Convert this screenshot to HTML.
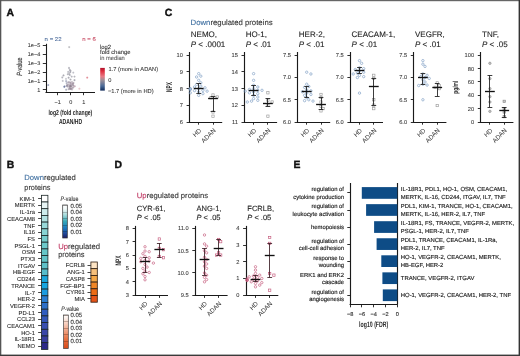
<!DOCTYPE html>
<html><head><meta charset="utf-8"><style>
html,body{margin:0;padding:0;background:#fff;}
body{width:520px;height:356px;overflow:hidden;}
svg{display:block;font-family:"Liberation Sans", sans-serif;will-change:transform;text-rendering:geometricPrecision;}
</style></head><body>
<svg width="520" height="356" viewBox="0 0 520 356">
<rect x="0" y="0" width="520" height="356" fill="#fff"/>
<text x="6.60" y="15.80" font-size="10.4" text-anchor="start" fill="#111" stroke="#111" stroke-width="0.4" font-weight="bold">A</text>
<text x="164.80" y="15.90" font-size="10.4" text-anchor="start" fill="#111" stroke="#111" stroke-width="0.4" font-weight="bold">C</text>
<text x="6.80" y="167.60" font-size="10.4" text-anchor="start" fill="#111" stroke="#111" stroke-width="0.4" font-weight="bold">B</text>
<text x="114.60" y="167.70" font-size="10.4" text-anchor="start" fill="#111" stroke="#111" stroke-width="0.4" font-weight="bold">D</text>
<text x="293.40" y="167.80" font-size="10.4" text-anchor="start" fill="#111" stroke="#111" stroke-width="0.4" font-weight="bold">E</text>
<line x1="46.50" y1="43.80" x2="46.50" y2="92.40" stroke="#1a1a1a" stroke-width="1.1"/>
<line x1="45.50" y1="92.50" x2="95.00" y2="92.50" stroke="#1a1a1a" stroke-width="1.1"/>
<line x1="42.80" y1="45.50" x2="46.00" y2="45.50" stroke="#1a1a1a" stroke-width="0.9"/>
<text x="40.20" y="47.35" font-size="5.5" text-anchor="end" fill="#3a3a3a" stroke="#3a3a3a" stroke-width="0.08">1e−5</text>
<line x1="42.80" y1="54.50" x2="46.00" y2="54.50" stroke="#1a1a1a" stroke-width="0.9"/>
<text x="40.20" y="56.25" font-size="5.5" text-anchor="end" fill="#3a3a3a" stroke="#3a3a3a" stroke-width="0.08">1e−4</text>
<line x1="42.80" y1="63.50" x2="46.00" y2="63.50" stroke="#1a1a1a" stroke-width="0.9"/>
<text x="40.20" y="65.15" font-size="5.5" text-anchor="end" fill="#3a3a3a" stroke="#3a3a3a" stroke-width="0.08">1e−3</text>
<line x1="42.80" y1="72.50" x2="46.00" y2="72.50" stroke="#1a1a1a" stroke-width="0.9"/>
<text x="40.20" y="74.05" font-size="5.5" text-anchor="end" fill="#3a3a3a" stroke="#3a3a3a" stroke-width="0.08">1e−2</text>
<line x1="42.80" y1="81.50" x2="46.00" y2="81.50" stroke="#1a1a1a" stroke-width="0.9"/>
<text x="40.20" y="82.95" font-size="5.5" text-anchor="end" fill="#3a3a3a" stroke="#3a3a3a" stroke-width="0.08">1e−1</text>
<line x1="42.80" y1="89.50" x2="46.00" y2="89.50" stroke="#1a1a1a" stroke-width="0.9"/>
<text x="40.20" y="91.85" font-size="5.5" text-anchor="end" fill="#3a3a3a" stroke="#3a3a3a" stroke-width="0.08">1</text>
<line x1="57.50" y1="92.40" x2="57.50" y2="95.20" stroke="#1a1a1a" stroke-width="0.9"/>
<text x="57.60" y="103.50" font-size="5.5" text-anchor="middle" fill="#3a3a3a" stroke="#3a3a3a" stroke-width="0.08">−1</text>
<line x1="70.50" y1="92.40" x2="70.50" y2="95.20" stroke="#1a1a1a" stroke-width="0.9"/>
<text x="70.70" y="103.50" font-size="5.5" text-anchor="middle" fill="#3a3a3a" stroke="#3a3a3a" stroke-width="0.08">0</text>
<line x1="83.50" y1="92.40" x2="83.50" y2="95.20" stroke="#1a1a1a" stroke-width="0.9"/>
<text x="83.70" y="103.50" font-size="5.5" text-anchor="middle" fill="#3a3a3a" stroke="#3a3a3a" stroke-width="0.08">1</text>
<text transform="translate(22.2,66.7) rotate(-90)" font-size="7.6" text-anchor="middle" fill="#1e1e1e" stroke="#1e1e1e" stroke-width="0.1" textLength="18.2" lengthAdjust="spacingAndGlyphs"><tspan font-style="italic">P</tspan>-value</text>
<text x="48.40" y="115.00" font-size="7.4" text-anchor="start" fill="#1e1e1e" stroke="#1e1e1e" stroke-width="0" font-weight="bold" textLength="43.90" lengthAdjust="spacingAndGlyphs">log2 (fold change)</text>
<text x="58.90" y="124.20" font-size="7.4" text-anchor="start" fill="#1e1e1e" stroke="#1e1e1e" stroke-width="0" font-weight="bold" textLength="23.20" lengthAdjust="spacingAndGlyphs">ADAN/HD</text>
<text x="44.60" y="41.00" font-size="5.6" text-anchor="start" fill="#4a6a9a" stroke="#4a6a9a" stroke-width="0.08" textLength="17.00" lengthAdjust="spacingAndGlyphs">n = 22</text>
<text x="82.30" y="41.00" font-size="5.6" text-anchor="start" fill="#c84a62" stroke="#c84a62" stroke-width="0.08" textLength="13.50" lengthAdjust="spacingAndGlyphs">n = 6</text>
<text x="100.00" y="48.50" font-size="6.0" text-anchor="start" fill="#333" stroke="#333" stroke-width="0.08" textLength="11.00" lengthAdjust="spacingAndGlyphs">log2</text>
<text x="100.00" y="54.30" font-size="6.0" text-anchor="start" fill="#333" stroke="#333" stroke-width="0.08" textLength="30.50" lengthAdjust="spacingAndGlyphs">fold change</text>
<text x="100.00" y="60.30" font-size="6.0" text-anchor="start" fill="#555" stroke="#555" stroke-width="0.08" textLength="24.80" lengthAdjust="spacingAndGlyphs">in median</text>
<defs><linearGradient id="gA" x1="0" y1="0" x2="0" y2="1"><stop offset="0" stop-color="#b0102a"/><stop offset="0.15" stop-color="#e03040"/><stop offset="0.38" stop-color="#e87a85"/><stop offset="0.55" stop-color="#9a8e98"/><stop offset="0.8" stop-color="#4a6a98"/><stop offset="1" stop-color="#0f2a5a"/></linearGradient></defs>
<rect x="100.20" y="67.90" width="4.60" height="22.70" fill="url(#gA)"/>
<text x="108.60" y="70.50" font-size="5.7" text-anchor="start" fill="#3a3a3a" stroke="#3a3a3a" stroke-width="0.08" textLength="49.50" lengthAdjust="spacingAndGlyphs">1.7 (more in ADAN)</text>
<text x="108.30" y="81.80" font-size="5.7" text-anchor="start" fill="#3a3a3a" stroke="#3a3a3a" stroke-width="0.08">0</text>
<text x="107.90" y="92.70" font-size="5.7" text-anchor="start" fill="#3a3a3a" stroke="#3a3a3a" stroke-width="0.08" textLength="45.70" lengthAdjust="spacingAndGlyphs">−1.7 (more in HD)</text>
<circle cx="69.20" cy="47.10" r="0.85" fill="#8a8a92" stroke="#8a8a92" stroke-width="0.25" opacity="0.6"/>
<circle cx="87.20" cy="77.60" r="0.85" fill="#d04050" stroke="#d04050" stroke-width="0.25" opacity="0.6"/>
<circle cx="48.30" cy="85.00" r="0.85" fill="#4a5a8a" stroke="#4a5a8a" stroke-width="0.25" opacity="0.6"/>
<circle cx="79.40" cy="88.70" r="0.85" fill="#e0a8b0" stroke="#e0a8b0" stroke-width="0.25" opacity="0.6"/>
<circle cx="64.30" cy="86.80" r="0.85" fill="#3a5090" stroke="#3a5090" stroke-width="0.25" opacity="0.6"/>
<circle cx="69.00" cy="67.90" r="0.85" fill="#7a7a88" stroke="#7a7a88" stroke-width="0.25" opacity="0.6"/>
<circle cx="69.80" cy="69.90" r="0.85" fill="#7a7a88" stroke="#7a7a88" stroke-width="0.25" opacity="0.6"/>
<circle cx="68.20" cy="71.90" r="0.85" fill="#8a8a96" stroke="#8a8a96" stroke-width="0.25" opacity="0.6"/>
<circle cx="70.20" cy="72.20" r="0.85" fill="#7a7a88" stroke="#7a7a88" stroke-width="0.25" opacity="0.6"/>
<circle cx="73.30" cy="72.60" r="0.85" fill="#9a9aa6" stroke="#9a9aa6" stroke-width="0.25" opacity="0.6"/>
<circle cx="67.80" cy="74.20" r="0.85" fill="#8a8a96" stroke="#8a8a96" stroke-width="0.25" opacity="0.6"/>
<circle cx="69.80" cy="75.00" r="0.85" fill="#7a7a88" stroke="#7a7a88" stroke-width="0.25" opacity="0.6"/>
<circle cx="74.50" cy="76.60" r="0.85" fill="#8a8a96" stroke="#8a8a96" stroke-width="0.25" opacity="0.6"/>
<circle cx="63.50" cy="75.40" r="0.85" fill="#7a7a88" stroke="#7a7a88" stroke-width="0.25" opacity="0.6"/>
<circle cx="62.30" cy="77.40" r="0.85" fill="#8a8a96" stroke="#8a8a96" stroke-width="0.25" opacity="0.6"/>
<circle cx="68.60" cy="77.70" r="0.85" fill="#7a7a88" stroke="#7a7a88" stroke-width="0.25" opacity="0.6"/>
<circle cx="71.70" cy="76.60" r="0.85" fill="#8a8a96" stroke="#8a8a96" stroke-width="0.25" opacity="0.6"/>
<circle cx="74.50" cy="80.10" r="0.85" fill="#6a6a7a" stroke="#6a6a7a" stroke-width="0.25" opacity="0.6"/>
<circle cx="62.70" cy="80.90" r="0.85" fill="#9a9aa6" stroke="#9a9aa6" stroke-width="0.25" opacity="0.6"/>
<circle cx="70.50" cy="79.50" r="0.85" fill="#7a7a88" stroke="#7a7a88" stroke-width="0.25" opacity="0.6"/>
<circle cx="69.30" cy="73.80" r="0.85" fill="#8a8a96" stroke="#8a8a96" stroke-width="0.25" opacity="0.6"/>
<circle cx="70.60" cy="70.80" r="0.85" fill="#8a8a96" stroke="#8a8a96" stroke-width="0.25" opacity="0.6"/>
<circle cx="66.00" cy="78.80" r="0.85" fill="#9a9aa6" stroke="#9a9aa6" stroke-width="0.25" opacity="0.6"/>
<circle cx="71.42" cy="84.01" r="0.85" fill="#a090a0" stroke="#a090a0" stroke-width="0.25" opacity="0.6"/>
<circle cx="74.08" cy="86.44" r="0.85" fill="#b898a8" stroke="#b898a8" stroke-width="0.25" opacity="0.6"/>
<circle cx="67.23" cy="84.96" r="0.85" fill="#9a8e9c" stroke="#9a8e9c" stroke-width="0.25" opacity="0.6"/>
<circle cx="68.10" cy="82.32" r="0.85" fill="#a090a0" stroke="#a090a0" stroke-width="0.25" opacity="0.6"/>
<circle cx="68.39" cy="84.27" r="0.85" fill="#9a8e9c" stroke="#9a8e9c" stroke-width="0.25" opacity="0.6"/>
<circle cx="70.46" cy="82.70" r="0.85" fill="#9a8e9c" stroke="#9a8e9c" stroke-width="0.25" opacity="0.6"/>
<circle cx="73.09" cy="87.54" r="0.85" fill="#8a7e8c" stroke="#8a7e8c" stroke-width="0.25" opacity="0.6"/>
<circle cx="69.14" cy="82.01" r="0.85" fill="#8a7e8c" stroke="#8a7e8c" stroke-width="0.25" opacity="0.6"/>
<circle cx="71.02" cy="88.72" r="0.85" fill="#a090a0" stroke="#a090a0" stroke-width="0.25" opacity="0.6"/>
<circle cx="71.75" cy="86.15" r="0.85" fill="#a090a0" stroke="#a090a0" stroke-width="0.25" opacity="0.6"/>
<circle cx="70.04" cy="84.25" r="0.85" fill="#a090a0" stroke="#a090a0" stroke-width="0.25" opacity="0.6"/>
<circle cx="66.15" cy="89.66" r="0.85" fill="#7a7e96" stroke="#7a7e96" stroke-width="0.25" opacity="0.6"/>
<circle cx="71.95" cy="81.79" r="0.85" fill="#9a8e9c" stroke="#9a8e9c" stroke-width="0.25" opacity="0.6"/>
<circle cx="70.48" cy="82.95" r="0.85" fill="#a090a0" stroke="#a090a0" stroke-width="0.25" opacity="0.6"/>
<circle cx="72.02" cy="84.50" r="0.85" fill="#a090a0" stroke="#a090a0" stroke-width="0.25" opacity="0.6"/>
<circle cx="66.75" cy="85.95" r="0.85" fill="#6a7090" stroke="#6a7090" stroke-width="0.25" opacity="0.6"/>
<circle cx="68.58" cy="89.09" r="0.85" fill="#8a7e8c" stroke="#8a7e8c" stroke-width="0.25" opacity="0.6"/>
<circle cx="69.65" cy="88.64" r="0.85" fill="#9a8e9c" stroke="#9a8e9c" stroke-width="0.25" opacity="0.6"/>
<circle cx="70.55" cy="85.65" r="0.85" fill="#8a7e8c" stroke="#8a7e8c" stroke-width="0.25" opacity="0.6"/>
<circle cx="69.26" cy="87.28" r="0.85" fill="#9a8e9c" stroke="#9a8e9c" stroke-width="0.25" opacity="0.6"/>
<circle cx="66.61" cy="83.04" r="0.85" fill="#7a7e96" stroke="#7a7e96" stroke-width="0.25" opacity="0.6"/>
<circle cx="66.12" cy="81.10" r="0.85" fill="#6a7090" stroke="#6a7090" stroke-width="0.25" opacity="0.6"/>
<circle cx="72.19" cy="88.11" r="0.85" fill="#a090a0" stroke="#a090a0" stroke-width="0.25" opacity="0.6"/>
<circle cx="71.14" cy="89.02" r="0.85" fill="#8a7e8c" stroke="#8a7e8c" stroke-width="0.25" opacity="0.6"/>
<circle cx="70.13" cy="88.79" r="0.85" fill="#8a7e8c" stroke="#8a7e8c" stroke-width="0.25" opacity="0.6"/>
<circle cx="74.99" cy="86.25" r="0.85" fill="#b898a8" stroke="#b898a8" stroke-width="0.25" opacity="0.6"/>
<circle cx="69.00" cy="85.73" r="0.85" fill="#948494" stroke="#948494" stroke-width="0.25" opacity="0.6"/>
<circle cx="73.32" cy="85.30" r="0.85" fill="#8a7e8c" stroke="#8a7e8c" stroke-width="0.25" opacity="0.6"/>
<circle cx="70.86" cy="86.20" r="0.85" fill="#8a7e8c" stroke="#8a7e8c" stroke-width="0.25" opacity="0.6"/>
<circle cx="72.06" cy="89.51" r="0.85" fill="#a090a0" stroke="#a090a0" stroke-width="0.25" opacity="0.6"/>
<circle cx="70.74" cy="87.05" r="0.85" fill="#948494" stroke="#948494" stroke-width="0.25" opacity="0.6"/>
<circle cx="72.94" cy="83.48" r="0.85" fill="#9a8e9c" stroke="#9a8e9c" stroke-width="0.25" opacity="0.6"/>
<circle cx="72.98" cy="84.87" r="0.85" fill="#a090a0" stroke="#a090a0" stroke-width="0.25" opacity="0.6"/>
<circle cx="69.85" cy="86.62" r="0.85" fill="#8a7e8c" stroke="#8a7e8c" stroke-width="0.25" opacity="0.6"/>
<circle cx="67.22" cy="85.32" r="0.85" fill="#a090a0" stroke="#a090a0" stroke-width="0.25" opacity="0.6"/>
<circle cx="67.46" cy="86.53" r="0.85" fill="#9a8e9c" stroke="#9a8e9c" stroke-width="0.25" opacity="0.6"/>
<circle cx="73.47" cy="82.95" r="0.85" fill="#948494" stroke="#948494" stroke-width="0.25" opacity="0.6"/>
<circle cx="70.24" cy="85.71" r="0.85" fill="#8a7e8c" stroke="#8a7e8c" stroke-width="0.25" opacity="0.6"/>
<circle cx="72.83" cy="83.49" r="0.85" fill="#a090a0" stroke="#a090a0" stroke-width="0.25" opacity="0.6"/>
<circle cx="64.59" cy="86.35" r="0.85" fill="#6a7090" stroke="#6a7090" stroke-width="0.25" opacity="0.6"/>
<text x="190.60" y="25.20" font-size="7.7" text-anchor="start" fill="#333" stroke="#333" stroke-width="0.1" textLength="82.00" lengthAdjust="spacingAndGlyphs"><tspan fill="#3a6c9e" stroke="#3a6c9e">Down</tspan>regulated proteins</text>
<line x1="189.50" y1="52.00" x2="189.50" y2="122.55" stroke="#1a1a1a" stroke-width="1.15"/>
<line x1="189.00" y1="122.50" x2="222.20" y2="122.50" stroke="#1a1a1a" stroke-width="1.15"/>
<line x1="186.60" y1="122.50" x2="189.50" y2="122.50" stroke="#1a1a1a" stroke-width="0.9"/>
<text x="182.90" y="123.90" font-size="5.7" text-anchor="end" fill="#3a3a3a" stroke="#3a3a3a" stroke-width="0.08">6</text>
<line x1="186.60" y1="105.50" x2="189.50" y2="105.50" stroke="#1a1a1a" stroke-width="0.9"/>
<text x="182.90" y="107.23" font-size="5.7" text-anchor="end" fill="#3a3a3a" stroke="#3a3a3a" stroke-width="0.08">7</text>
<line x1="186.60" y1="88.50" x2="189.50" y2="88.50" stroke="#1a1a1a" stroke-width="0.9"/>
<text x="182.90" y="90.55" font-size="5.7" text-anchor="end" fill="#3a3a3a" stroke="#3a3a3a" stroke-width="0.08">8</text>
<line x1="186.60" y1="71.50" x2="189.50" y2="71.50" stroke="#1a1a1a" stroke-width="0.9"/>
<text x="182.90" y="73.88" font-size="5.7" text-anchor="end" fill="#3a3a3a" stroke="#3a3a3a" stroke-width="0.08">9</text>
<line x1="186.60" y1="55.50" x2="189.50" y2="55.50" stroke="#1a1a1a" stroke-width="0.9"/>
<text x="182.90" y="57.20" font-size="5.7" text-anchor="end" fill="#3a3a3a" stroke="#3a3a3a" stroke-width="0.08">10</text>
<line x1="198.50" y1="122.00" x2="198.50" y2="124.70" stroke="#1a1a1a" stroke-width="0.9"/>
<text transform="translate(201.80,130.90) rotate(-45)" font-size="6.3" text-anchor="end" fill="#333">HD</text>
<line x1="213.50" y1="122.00" x2="213.50" y2="124.70" stroke="#1a1a1a" stroke-width="0.9"/>
<text transform="translate(216.10,130.90) rotate(-45)" font-size="6.3" text-anchor="end" fill="#333">ADAN</text>
<text x="190.80" y="37.30" font-size="8.0" text-anchor="start" fill="#1e1e1e" stroke="#1e1e1e" stroke-width="0.1">NEMO,</text>
<text x="190.80" y="46.50" font-size="8.0" text-anchor="start" fill="#1e1e1e" stroke="#1e1e1e" stroke-width="0.1"><tspan font-style="italic">P</tspan> &lt; .0001</text>
<circle cx="198.70" cy="73.64" r="1.2" fill="none" stroke="#7c9cc2" stroke-width="0.65"/>
<circle cx="200.80" cy="76.14" r="1.2" fill="none" stroke="#7c9cc2" stroke-width="0.65"/>
<circle cx="196.60" cy="76.98" r="1.2" fill="none" stroke="#7c9cc2" stroke-width="0.65"/>
<circle cx="198.70" cy="80.31" r="1.2" fill="none" stroke="#7c9cc2" stroke-width="0.65"/>
<circle cx="200.80" cy="82.81" r="1.2" fill="none" stroke="#7c9cc2" stroke-width="0.65"/>
<circle cx="196.60" cy="84.48" r="1.2" fill="none" stroke="#7c9cc2" stroke-width="0.65"/>
<circle cx="200.80" cy="86.15" r="1.2" fill="none" stroke="#7c9cc2" stroke-width="0.65"/>
<circle cx="194.50" cy="86.98" r="1.2" fill="none" stroke="#7c9cc2" stroke-width="0.65"/>
<circle cx="205.00" cy="87.82" r="1.2" fill="none" stroke="#7c9cc2" stroke-width="0.65"/>
<circle cx="198.70" cy="88.65" r="1.2" fill="none" stroke="#7c9cc2" stroke-width="0.65"/>
<circle cx="190.30" cy="88.65" r="1.2" fill="none" stroke="#7c9cc2" stroke-width="0.65"/>
<circle cx="190.30" cy="88.98" r="1.2" fill="none" stroke="#7c9cc2" stroke-width="0.65"/>
<circle cx="190.30" cy="89.48" r="1.2" fill="none" stroke="#7c9cc2" stroke-width="0.65"/>
<circle cx="202.90" cy="90.32" r="1.2" fill="none" stroke="#7c9cc2" stroke-width="0.65"/>
<circle cx="194.50" cy="90.65" r="1.2" fill="none" stroke="#7c9cc2" stroke-width="0.65"/>
<circle cx="207.10" cy="91.15" r="1.2" fill="none" stroke="#7c9cc2" stroke-width="0.65"/>
<circle cx="198.70" cy="91.98" r="1.2" fill="none" stroke="#7c9cc2" stroke-width="0.65"/>
<circle cx="190.30" cy="92.82" r="1.2" fill="none" stroke="#7c9cc2" stroke-width="0.65"/>
<circle cx="202.90" cy="93.65" r="1.2" fill="none" stroke="#7c9cc2" stroke-width="0.65"/>
<circle cx="198.70" cy="95.32" r="1.2" fill="none" stroke="#7c9cc2" stroke-width="0.65"/>
<rect x="211.85" y="93.84" width="2.3" height="2.3" fill="none" stroke="#9a9a9a" stroke-width="0.65"/>
<rect x="216.05" y="95.84" width="2.3" height="2.3" fill="none" stroke="#9a9a9a" stroke-width="0.65"/>
<rect x="209.75" y="96.67" width="2.3" height="2.3" fill="none" stroke="#9a9a9a" stroke-width="0.65"/>
<rect x="211.85" y="110.84" width="2.3" height="2.3" fill="none" stroke="#9a9a9a" stroke-width="0.65"/>
<rect x="211.85" y="115.01" width="2.3" height="2.3" fill="none" stroke="#9a9a9a" stroke-width="0.65"/>
<line x1="198.50" y1="83.65" x2="198.50" y2="93.65" stroke="#1a1a1a" stroke-width="0.85"/>
<line x1="196.30" y1="83.50" x2="201.10" y2="83.50" stroke="#1a1a1a" stroke-width="0.85"/>
<line x1="196.30" y1="93.50" x2="201.10" y2="93.50" stroke="#1a1a1a" stroke-width="0.85"/>
<line x1="193.80" y1="88.50" x2="203.60" y2="88.50" stroke="#111" stroke-width="1.35"/>
<line x1="213.50" y1="96.99" x2="213.50" y2="112.00" stroke="#1a1a1a" stroke-width="0.85"/>
<line x1="210.60" y1="96.50" x2="215.40" y2="96.50" stroke="#1a1a1a" stroke-width="0.85"/>
<line x1="210.60" y1="111.50" x2="215.40" y2="111.50" stroke="#1a1a1a" stroke-width="0.85"/>
<line x1="208.10" y1="98.50" x2="217.90" y2="98.50" stroke="#111" stroke-width="1.35"/>
<line x1="244.50" y1="52.00" x2="244.50" y2="122.55" stroke="#1a1a1a" stroke-width="1.15"/>
<line x1="243.90" y1="122.50" x2="277.10" y2="122.50" stroke="#1a1a1a" stroke-width="1.15"/>
<line x1="241.50" y1="122.50" x2="244.40" y2="122.50" stroke="#1a1a1a" stroke-width="0.9"/>
<text x="237.80" y="123.90" font-size="5.7" text-anchor="end" fill="#3a3a3a" stroke="#3a3a3a" stroke-width="0.08">11</text>
<line x1="241.50" y1="105.50" x2="244.40" y2="105.50" stroke="#1a1a1a" stroke-width="0.9"/>
<text x="237.80" y="107.23" font-size="5.7" text-anchor="end" fill="#3a3a3a" stroke="#3a3a3a" stroke-width="0.08">12</text>
<line x1="241.50" y1="88.50" x2="244.40" y2="88.50" stroke="#1a1a1a" stroke-width="0.9"/>
<text x="237.80" y="90.55" font-size="5.7" text-anchor="end" fill="#3a3a3a" stroke="#3a3a3a" stroke-width="0.08">13</text>
<line x1="241.50" y1="71.50" x2="244.40" y2="71.50" stroke="#1a1a1a" stroke-width="0.9"/>
<text x="237.80" y="73.88" font-size="5.7" text-anchor="end" fill="#3a3a3a" stroke="#3a3a3a" stroke-width="0.08">14</text>
<line x1="241.50" y1="55.50" x2="244.40" y2="55.50" stroke="#1a1a1a" stroke-width="0.9"/>
<text x="237.80" y="57.20" font-size="5.7" text-anchor="end" fill="#3a3a3a" stroke="#3a3a3a" stroke-width="0.08">15</text>
<line x1="253.50" y1="122.00" x2="253.50" y2="124.70" stroke="#1a1a1a" stroke-width="0.9"/>
<text transform="translate(256.70,130.90) rotate(-45)" font-size="6.3" text-anchor="end" fill="#333">HD</text>
<line x1="267.50" y1="122.00" x2="267.50" y2="124.70" stroke="#1a1a1a" stroke-width="0.9"/>
<text transform="translate(271.00,130.90) rotate(-45)" font-size="6.3" text-anchor="end" fill="#333">ADAN</text>
<text x="245.70" y="37.30" font-size="8.0" text-anchor="start" fill="#1e1e1e" stroke="#1e1e1e" stroke-width="0.1">HO-1,</text>
<text x="245.70" y="46.50" font-size="8.0" text-anchor="start" fill="#1e1e1e" stroke="#1e1e1e" stroke-width="0.1"><tspan font-style="italic">P</tspan> &lt; .01</text>
<circle cx="253.60" cy="73.64" r="1.2" fill="none" stroke="#7c9cc2" stroke-width="0.65"/>
<circle cx="253.60" cy="80.31" r="1.2" fill="none" stroke="#7c9cc2" stroke-width="0.65"/>
<circle cx="253.60" cy="85.32" r="1.2" fill="none" stroke="#7c9cc2" stroke-width="0.65"/>
<circle cx="257.80" cy="86.98" r="1.2" fill="none" stroke="#7c9cc2" stroke-width="0.65"/>
<circle cx="253.60" cy="88.65" r="1.2" fill="none" stroke="#7c9cc2" stroke-width="0.65"/>
<circle cx="249.40" cy="89.48" r="1.2" fill="none" stroke="#7c9cc2" stroke-width="0.65"/>
<circle cx="257.80" cy="90.32" r="1.2" fill="none" stroke="#7c9cc2" stroke-width="0.65"/>
<circle cx="262.00" cy="90.32" r="1.2" fill="none" stroke="#7c9cc2" stroke-width="0.65"/>
<circle cx="245.20" cy="91.15" r="1.2" fill="none" stroke="#7c9cc2" stroke-width="0.65"/>
<circle cx="253.60" cy="91.98" r="1.2" fill="none" stroke="#7c9cc2" stroke-width="0.65"/>
<circle cx="249.40" cy="92.82" r="1.2" fill="none" stroke="#7c9cc2" stroke-width="0.65"/>
<circle cx="257.80" cy="93.65" r="1.2" fill="none" stroke="#7c9cc2" stroke-width="0.65"/>
<circle cx="253.60" cy="95.32" r="1.2" fill="none" stroke="#7c9cc2" stroke-width="0.65"/>
<circle cx="257.80" cy="96.99" r="1.2" fill="none" stroke="#7c9cc2" stroke-width="0.65"/>
<circle cx="253.60" cy="98.66" r="1.2" fill="none" stroke="#7c9cc2" stroke-width="0.65"/>
<circle cx="257.80" cy="100.32" r="1.2" fill="none" stroke="#7c9cc2" stroke-width="0.65"/>
<circle cx="251.50" cy="101.16" r="1.2" fill="none" stroke="#7c9cc2" stroke-width="0.65"/>
<circle cx="247.30" cy="101.99" r="1.2" fill="none" stroke="#7c9cc2" stroke-width="0.65"/>
<rect x="266.75" y="91.67" width="2.3" height="2.3" fill="none" stroke="#9a9a9a" stroke-width="0.65"/>
<rect x="266.75" y="99.17" width="2.3" height="2.3" fill="none" stroke="#9a9a9a" stroke-width="0.65"/>
<rect x="270.95" y="100.84" width="2.3" height="2.3" fill="none" stroke="#9a9a9a" stroke-width="0.65"/>
<rect x="266.75" y="104.17" width="2.3" height="2.3" fill="none" stroke="#9a9a9a" stroke-width="0.65"/>
<rect x="266.75" y="115.01" width="2.3" height="2.3" fill="none" stroke="#9a9a9a" stroke-width="0.65"/>
<line x1="253.50" y1="85.32" x2="253.50" y2="95.32" stroke="#1a1a1a" stroke-width="0.85"/>
<line x1="251.20" y1="85.50" x2="256.00" y2="85.50" stroke="#1a1a1a" stroke-width="0.85"/>
<line x1="251.20" y1="95.50" x2="256.00" y2="95.50" stroke="#1a1a1a" stroke-width="0.85"/>
<line x1="248.70" y1="90.50" x2="258.50" y2="90.50" stroke="#111" stroke-width="1.35"/>
<line x1="267.50" y1="98.66" x2="267.50" y2="106.16" stroke="#1a1a1a" stroke-width="0.85"/>
<line x1="265.50" y1="98.50" x2="270.30" y2="98.50" stroke="#1a1a1a" stroke-width="0.85"/>
<line x1="265.50" y1="106.50" x2="270.30" y2="106.50" stroke="#1a1a1a" stroke-width="0.85"/>
<line x1="263.00" y1="103.50" x2="272.80" y2="103.50" stroke="#111" stroke-width="1.35"/>
<line x1="297.50" y1="52.00" x2="297.50" y2="122.55" stroke="#1a1a1a" stroke-width="1.15"/>
<line x1="297.00" y1="122.50" x2="330.20" y2="122.50" stroke="#1a1a1a" stroke-width="1.15"/>
<line x1="294.60" y1="122.50" x2="297.50" y2="122.50" stroke="#1a1a1a" stroke-width="0.9"/>
<text x="290.90" y="123.90" font-size="5.7" text-anchor="end" fill="#3a3a3a" stroke="#3a3a3a" stroke-width="0.08">6.0</text>
<line x1="294.60" y1="99.50" x2="297.50" y2="99.50" stroke="#1a1a1a" stroke-width="0.9"/>
<text x="290.90" y="101.67" font-size="5.7" text-anchor="end" fill="#3a3a3a" stroke="#3a3a3a" stroke-width="0.08">6.5</text>
<line x1="294.60" y1="77.50" x2="297.50" y2="77.50" stroke="#1a1a1a" stroke-width="0.9"/>
<text x="290.90" y="79.43" font-size="5.7" text-anchor="end" fill="#3a3a3a" stroke="#3a3a3a" stroke-width="0.08">7.0</text>
<line x1="294.60" y1="55.50" x2="297.50" y2="55.50" stroke="#1a1a1a" stroke-width="0.9"/>
<text x="290.90" y="57.20" font-size="5.7" text-anchor="end" fill="#3a3a3a" stroke="#3a3a3a" stroke-width="0.08">7.5</text>
<line x1="306.50" y1="122.00" x2="306.50" y2="124.70" stroke="#1a1a1a" stroke-width="0.9"/>
<text transform="translate(309.80,130.90) rotate(-45)" font-size="6.3" text-anchor="end" fill="#333">HD</text>
<line x1="321.50" y1="122.00" x2="321.50" y2="124.70" stroke="#1a1a1a" stroke-width="0.9"/>
<text transform="translate(324.10,130.90) rotate(-45)" font-size="6.3" text-anchor="end" fill="#333">ADAN</text>
<text x="298.80" y="37.30" font-size="8.0" text-anchor="start" fill="#1e1e1e" stroke="#1e1e1e" stroke-width="0.1">HER-2,</text>
<text x="298.80" y="46.50" font-size="8.0" text-anchor="start" fill="#1e1e1e" stroke="#1e1e1e" stroke-width="0.1"><tspan font-style="italic">P</tspan> &lt; .01</text>
<circle cx="306.70" cy="72.20" r="1.2" fill="none" stroke="#7c9cc2" stroke-width="0.65"/>
<circle cx="310.90" cy="73.98" r="1.2" fill="none" stroke="#7c9cc2" stroke-width="0.65"/>
<circle cx="306.70" cy="84.20" r="1.2" fill="none" stroke="#7c9cc2" stroke-width="0.65"/>
<circle cx="308.80" cy="86.43" r="1.2" fill="none" stroke="#7c9cc2" stroke-width="0.65"/>
<circle cx="304.60" cy="87.32" r="1.2" fill="none" stroke="#7c9cc2" stroke-width="0.65"/>
<circle cx="306.70" cy="89.98" r="1.2" fill="none" stroke="#7c9cc2" stroke-width="0.65"/>
<circle cx="310.90" cy="90.87" r="1.2" fill="none" stroke="#7c9cc2" stroke-width="0.65"/>
<circle cx="302.50" cy="91.76" r="1.2" fill="none" stroke="#7c9cc2" stroke-width="0.65"/>
<circle cx="306.70" cy="93.10" r="1.2" fill="none" stroke="#7c9cc2" stroke-width="0.65"/>
<circle cx="310.90" cy="94.43" r="1.2" fill="none" stroke="#7c9cc2" stroke-width="0.65"/>
<circle cx="304.60" cy="95.32" r="1.2" fill="none" stroke="#7c9cc2" stroke-width="0.65"/>
<circle cx="306.70" cy="97.54" r="1.2" fill="none" stroke="#7c9cc2" stroke-width="0.65"/>
<circle cx="308.80" cy="99.77" r="1.2" fill="none" stroke="#7c9cc2" stroke-width="0.65"/>
<circle cx="304.60" cy="100.66" r="1.2" fill="none" stroke="#7c9cc2" stroke-width="0.65"/>
<circle cx="313.00" cy="101.10" r="1.2" fill="none" stroke="#7c9cc2" stroke-width="0.65"/>
<rect x="319.85" y="93.28" width="2.3" height="2.3" fill="none" stroke="#9a9a9a" stroke-width="0.65"/>
<rect x="319.85" y="96.39" width="2.3" height="2.3" fill="none" stroke="#9a9a9a" stroke-width="0.65"/>
<rect x="319.85" y="100.84" width="2.3" height="2.3" fill="none" stroke="#9a9a9a" stroke-width="0.65"/>
<rect x="319.85" y="105.29" width="2.3" height="2.3" fill="none" stroke="#9a9a9a" stroke-width="0.65"/>
<rect x="321.95" y="107.51" width="2.3" height="2.3" fill="none" stroke="#9a9a9a" stroke-width="0.65"/>
<rect x="319.85" y="109.73" width="2.3" height="2.3" fill="none" stroke="#9a9a9a" stroke-width="0.65"/>
<line x1="306.50" y1="86.43" x2="306.50" y2="97.54" stroke="#1a1a1a" stroke-width="0.85"/>
<line x1="304.30" y1="86.50" x2="309.10" y2="86.50" stroke="#1a1a1a" stroke-width="0.85"/>
<line x1="304.30" y1="97.50" x2="309.10" y2="97.50" stroke="#1a1a1a" stroke-width="0.85"/>
<line x1="301.80" y1="91.50" x2="311.60" y2="91.50" stroke="#111" stroke-width="1.35"/>
<line x1="321.50" y1="97.54" x2="321.50" y2="109.55" stroke="#1a1a1a" stroke-width="0.85"/>
<line x1="318.60" y1="97.50" x2="323.40" y2="97.50" stroke="#1a1a1a" stroke-width="0.85"/>
<line x1="318.60" y1="109.50" x2="323.40" y2="109.50" stroke="#1a1a1a" stroke-width="0.85"/>
<line x1="316.10" y1="104.50" x2="325.90" y2="104.50" stroke="#111" stroke-width="1.35"/>
<line x1="350.50" y1="52.00" x2="350.50" y2="122.55" stroke="#1a1a1a" stroke-width="1.15"/>
<line x1="349.80" y1="122.50" x2="383.00" y2="122.50" stroke="#1a1a1a" stroke-width="1.15"/>
<line x1="347.40" y1="122.50" x2="350.30" y2="122.50" stroke="#1a1a1a" stroke-width="0.9"/>
<text x="343.70" y="123.90" font-size="5.7" text-anchor="end" fill="#3a3a3a" stroke="#3a3a3a" stroke-width="0.08">6.0</text>
<line x1="347.40" y1="99.50" x2="350.30" y2="99.50" stroke="#1a1a1a" stroke-width="0.9"/>
<text x="343.70" y="101.67" font-size="5.7" text-anchor="end" fill="#3a3a3a" stroke="#3a3a3a" stroke-width="0.08">6.5</text>
<line x1="347.40" y1="77.50" x2="350.30" y2="77.50" stroke="#1a1a1a" stroke-width="0.9"/>
<text x="343.70" y="79.43" font-size="5.7" text-anchor="end" fill="#3a3a3a" stroke="#3a3a3a" stroke-width="0.08">7.0</text>
<line x1="347.40" y1="55.50" x2="350.30" y2="55.50" stroke="#1a1a1a" stroke-width="0.9"/>
<text x="343.70" y="57.20" font-size="5.7" text-anchor="end" fill="#3a3a3a" stroke="#3a3a3a" stroke-width="0.08">7.5</text>
<line x1="359.50" y1="122.00" x2="359.50" y2="124.70" stroke="#1a1a1a" stroke-width="0.9"/>
<text transform="translate(362.60,130.90) rotate(-45)" font-size="6.3" text-anchor="end" fill="#333">HD</text>
<line x1="373.50" y1="122.00" x2="373.50" y2="124.70" stroke="#1a1a1a" stroke-width="0.9"/>
<text transform="translate(376.90,130.90) rotate(-45)" font-size="6.3" text-anchor="end" fill="#333">ADAN</text>
<text x="351.60" y="37.30" font-size="8.0" text-anchor="start" fill="#1e1e1e" stroke="#1e1e1e" stroke-width="0.1">CEACAM-1,</text>
<text x="351.60" y="46.50" font-size="8.0" text-anchor="start" fill="#1e1e1e" stroke="#1e1e1e" stroke-width="0.1"><tspan font-style="italic">P</tspan> &lt; .01</text>
<circle cx="359.50" cy="60.64" r="1.2" fill="none" stroke="#7c9cc2" stroke-width="0.65"/>
<circle cx="361.60" cy="63.30" r="1.2" fill="none" stroke="#7c9cc2" stroke-width="0.65"/>
<circle cx="359.50" cy="67.75" r="1.2" fill="none" stroke="#7c9cc2" stroke-width="0.65"/>
<circle cx="363.70" cy="68.64" r="1.2" fill="none" stroke="#7c9cc2" stroke-width="0.65"/>
<circle cx="355.30" cy="69.53" r="1.2" fill="none" stroke="#7c9cc2" stroke-width="0.65"/>
<circle cx="359.50" cy="70.86" r="1.2" fill="none" stroke="#7c9cc2" stroke-width="0.65"/>
<circle cx="363.70" cy="72.20" r="1.2" fill="none" stroke="#7c9cc2" stroke-width="0.65"/>
<circle cx="357.40" cy="73.09" r="1.2" fill="none" stroke="#7c9cc2" stroke-width="0.65"/>
<circle cx="353.20" cy="73.98" r="1.2" fill="none" stroke="#7c9cc2" stroke-width="0.65"/>
<circle cx="359.50" cy="75.31" r="1.2" fill="none" stroke="#7c9cc2" stroke-width="0.65"/>
<circle cx="363.70" cy="76.64" r="1.2" fill="none" stroke="#7c9cc2" stroke-width="0.65"/>
<circle cx="357.40" cy="77.53" r="1.2" fill="none" stroke="#7c9cc2" stroke-width="0.65"/>
<circle cx="359.50" cy="93.10" r="1.2" fill="none" stroke="#7c9cc2" stroke-width="0.65"/>
<rect x="372.65" y="74.16" width="2.3" height="2.3" fill="none" stroke="#9a9a9a" stroke-width="0.65"/>
<rect x="372.65" y="77.27" width="2.3" height="2.3" fill="none" stroke="#9a9a9a" stroke-width="0.65"/>
<rect x="372.65" y="98.62" width="2.3" height="2.3" fill="none" stroke="#9a9a9a" stroke-width="0.65"/>
<rect x="372.65" y="103.95" width="2.3" height="2.3" fill="none" stroke="#9a9a9a" stroke-width="0.65"/>
<rect x="372.65" y="107.51" width="2.3" height="2.3" fill="none" stroke="#9a9a9a" stroke-width="0.65"/>
<line x1="359.50" y1="67.75" x2="359.50" y2="73.09" stroke="#1a1a1a" stroke-width="0.85"/>
<line x1="357.10" y1="67.50" x2="361.90" y2="67.50" stroke="#1a1a1a" stroke-width="0.85"/>
<line x1="357.10" y1="73.50" x2="361.90" y2="73.50" stroke="#1a1a1a" stroke-width="0.85"/>
<line x1="354.60" y1="70.50" x2="364.40" y2="70.50" stroke="#111" stroke-width="1.35"/>
<line x1="373.50" y1="78.42" x2="373.50" y2="105.10" stroke="#1a1a1a" stroke-width="0.85"/>
<line x1="371.40" y1="78.50" x2="376.20" y2="78.50" stroke="#1a1a1a" stroke-width="0.85"/>
<line x1="371.40" y1="105.50" x2="376.20" y2="105.50" stroke="#1a1a1a" stroke-width="0.85"/>
<line x1="368.90" y1="86.50" x2="378.70" y2="86.50" stroke="#111" stroke-width="1.35"/>
<line x1="413.50" y1="52.00" x2="413.50" y2="122.55" stroke="#1a1a1a" stroke-width="1.15"/>
<line x1="413.20" y1="122.50" x2="446.40" y2="122.50" stroke="#1a1a1a" stroke-width="1.15"/>
<line x1="410.80" y1="122.50" x2="413.70" y2="122.50" stroke="#1a1a1a" stroke-width="0.9"/>
<text x="407.10" y="123.90" font-size="5.7" text-anchor="end" fill="#3a3a3a" stroke="#3a3a3a" stroke-width="0.08">6.0</text>
<line x1="410.80" y1="99.50" x2="413.70" y2="99.50" stroke="#1a1a1a" stroke-width="0.9"/>
<text x="407.10" y="101.67" font-size="5.7" text-anchor="end" fill="#3a3a3a" stroke="#3a3a3a" stroke-width="0.08">6.5</text>
<line x1="410.80" y1="77.50" x2="413.70" y2="77.50" stroke="#1a1a1a" stroke-width="0.9"/>
<text x="407.10" y="79.43" font-size="5.7" text-anchor="end" fill="#3a3a3a" stroke="#3a3a3a" stroke-width="0.08">7.0</text>
<line x1="410.80" y1="55.50" x2="413.70" y2="55.50" stroke="#1a1a1a" stroke-width="0.9"/>
<text x="407.10" y="57.20" font-size="5.7" text-anchor="end" fill="#3a3a3a" stroke="#3a3a3a" stroke-width="0.08">7.5</text>
<line x1="422.50" y1="122.00" x2="422.50" y2="124.70" stroke="#1a1a1a" stroke-width="0.9"/>
<text transform="translate(426.00,130.90) rotate(-45)" font-size="6.3" text-anchor="end" fill="#333">HD</text>
<line x1="437.50" y1="122.00" x2="437.50" y2="124.70" stroke="#1a1a1a" stroke-width="0.9"/>
<text transform="translate(440.30,130.90) rotate(-45)" font-size="6.3" text-anchor="end" fill="#333">ADAN</text>
<text x="415.00" y="37.30" font-size="8.0" text-anchor="start" fill="#1e1e1e" stroke="#1e1e1e" stroke-width="0.1">VEGFR,</text>
<text x="415.00" y="46.50" font-size="8.0" text-anchor="start" fill="#1e1e1e" stroke="#1e1e1e" stroke-width="0.1"><tspan font-style="italic">P</tspan> &lt; .01</text>
<circle cx="422.90" cy="60.64" r="1.2" fill="none" stroke="#7c9cc2" stroke-width="0.65"/>
<circle cx="422.90" cy="64.19" r="1.2" fill="none" stroke="#7c9cc2" stroke-width="0.65"/>
<circle cx="425.00" cy="66.42" r="1.2" fill="none" stroke="#7c9cc2" stroke-width="0.65"/>
<circle cx="422.90" cy="73.98" r="1.2" fill="none" stroke="#7c9cc2" stroke-width="0.65"/>
<circle cx="427.10" cy="75.31" r="1.2" fill="none" stroke="#7c9cc2" stroke-width="0.65"/>
<circle cx="420.80" cy="76.64" r="1.2" fill="none" stroke="#7c9cc2" stroke-width="0.65"/>
<circle cx="425.00" cy="77.53" r="1.2" fill="none" stroke="#7c9cc2" stroke-width="0.65"/>
<circle cx="429.20" cy="78.42" r="1.2" fill="none" stroke="#7c9cc2" stroke-width="0.65"/>
<circle cx="422.90" cy="79.76" r="1.2" fill="none" stroke="#7c9cc2" stroke-width="0.65"/>
<circle cx="425.00" cy="81.98" r="1.2" fill="none" stroke="#7c9cc2" stroke-width="0.65"/>
<circle cx="422.90" cy="84.20" r="1.2" fill="none" stroke="#7c9cc2" stroke-width="0.65"/>
<circle cx="427.10" cy="85.09" r="1.2" fill="none" stroke="#7c9cc2" stroke-width="0.65"/>
<circle cx="418.70" cy="85.54" r="1.2" fill="none" stroke="#7c9cc2" stroke-width="0.65"/>
<circle cx="422.90" cy="99.77" r="1.2" fill="none" stroke="#7c9cc2" stroke-width="0.65"/>
<rect x="436.05" y="81.72" width="2.3" height="2.3" fill="none" stroke="#9a9a9a" stroke-width="0.65"/>
<rect x="438.15" y="84.39" width="2.3" height="2.3" fill="none" stroke="#9a9a9a" stroke-width="0.65"/>
<rect x="433.95" y="86.17" width="2.3" height="2.3" fill="none" stroke="#9a9a9a" stroke-width="0.65"/>
<rect x="438.15" y="87.50" width="2.3" height="2.3" fill="none" stroke="#9a9a9a" stroke-width="0.65"/>
<rect x="436.05" y="104.40" width="2.3" height="2.3" fill="none" stroke="#9a9a9a" stroke-width="0.65"/>
<line x1="422.50" y1="73.98" x2="422.50" y2="84.20" stroke="#1a1a1a" stroke-width="0.85"/>
<line x1="420.50" y1="73.50" x2="425.30" y2="73.50" stroke="#1a1a1a" stroke-width="0.85"/>
<line x1="420.50" y1="84.50" x2="425.30" y2="84.50" stroke="#1a1a1a" stroke-width="0.85"/>
<line x1="418.00" y1="77.50" x2="427.80" y2="77.50" stroke="#111" stroke-width="1.35"/>
<line x1="437.50" y1="83.31" x2="437.50" y2="96.21" stroke="#1a1a1a" stroke-width="0.85"/>
<line x1="434.80" y1="83.50" x2="439.60" y2="83.50" stroke="#1a1a1a" stroke-width="0.85"/>
<line x1="434.80" y1="96.50" x2="439.60" y2="96.50" stroke="#1a1a1a" stroke-width="0.85"/>
<line x1="432.30" y1="87.50" x2="442.10" y2="87.50" stroke="#111" stroke-width="1.35"/>
<line x1="480.50" y1="52.00" x2="480.50" y2="122.55" stroke="#1a1a1a" stroke-width="1.15"/>
<line x1="480.20" y1="122.50" x2="513.40" y2="122.50" stroke="#1a1a1a" stroke-width="1.15"/>
<line x1="477.80" y1="122.50" x2="480.70" y2="122.50" stroke="#1a1a1a" stroke-width="0.9"/>
<text x="474.10" y="123.90" font-size="5.7" text-anchor="end" fill="#3a3a3a" stroke="#3a3a3a" stroke-width="0.08">0</text>
<line x1="477.80" y1="108.50" x2="480.70" y2="108.50" stroke="#1a1a1a" stroke-width="0.9"/>
<text x="474.10" y="110.56" font-size="5.7" text-anchor="end" fill="#3a3a3a" stroke="#3a3a3a" stroke-width="0.08">20</text>
<line x1="477.80" y1="95.50" x2="480.70" y2="95.50" stroke="#1a1a1a" stroke-width="0.9"/>
<text x="474.10" y="97.22" font-size="5.7" text-anchor="end" fill="#3a3a3a" stroke="#3a3a3a" stroke-width="0.08">40</text>
<line x1="477.80" y1="81.50" x2="480.70" y2="81.50" stroke="#1a1a1a" stroke-width="0.9"/>
<text x="474.10" y="83.88" font-size="5.7" text-anchor="end" fill="#3a3a3a" stroke="#3a3a3a" stroke-width="0.08">60</text>
<line x1="477.80" y1="68.50" x2="480.70" y2="68.50" stroke="#1a1a1a" stroke-width="0.9"/>
<text x="474.10" y="70.54" font-size="5.7" text-anchor="end" fill="#3a3a3a" stroke="#3a3a3a" stroke-width="0.08">80</text>
<line x1="477.80" y1="55.50" x2="480.70" y2="55.50" stroke="#1a1a1a" stroke-width="0.9"/>
<text x="474.10" y="57.20" font-size="5.7" text-anchor="end" fill="#3a3a3a" stroke="#3a3a3a" stroke-width="0.08">100</text>
<line x1="489.50" y1="122.00" x2="489.50" y2="124.70" stroke="#1a1a1a" stroke-width="0.9"/>
<text transform="translate(493.00,130.90) rotate(-45)" font-size="6.3" text-anchor="end" fill="#333">HD</text>
<line x1="504.50" y1="122.00" x2="504.50" y2="124.70" stroke="#1a1a1a" stroke-width="0.9"/>
<text transform="translate(507.30,130.90) rotate(-45)" font-size="6.3" text-anchor="end" fill="#333">ADAN</text>
<text x="482.00" y="37.30" font-size="8.0" text-anchor="start" fill="#1e1e1e" stroke="#1e1e1e" stroke-width="0.1">TNF,</text>
<text x="482.00" y="46.50" font-size="8.0" text-anchor="start" fill="#1e1e1e" stroke="#1e1e1e" stroke-width="0.1"><tspan font-style="italic">P</tspan> &lt; .05</text>
<circle cx="489.90" cy="63.30" r="1.2" fill="#c8c8c8" stroke="#8a8a8a" stroke-width="0.65"/>
<circle cx="489.90" cy="78.64" r="1.2" fill="#c8c8c8" stroke="#8a8a8a" stroke-width="0.65"/>
<circle cx="489.90" cy="88.65" r="1.2" fill="#c8c8c8" stroke="#8a8a8a" stroke-width="0.65"/>
<circle cx="489.90" cy="96.65" r="1.2" fill="#c8c8c8" stroke="#8a8a8a" stroke-width="0.65"/>
<circle cx="489.90" cy="101.99" r="1.2" fill="#c8c8c8" stroke="#8a8a8a" stroke-width="0.65"/>
<circle cx="489.90" cy="111.33" r="1.2" fill="#c8c8c8" stroke="#8a8a8a" stroke-width="0.65"/>
<rect x="503.05" y="100.17" width="2.3" height="2.3" fill="#c8c8c8" stroke="#8a8a8a" stroke-width="0.65"/>
<rect x="503.05" y="107.51" width="2.3" height="2.3" fill="#c8c8c8" stroke="#8a8a8a" stroke-width="0.65"/>
<rect x="503.05" y="110.84" width="2.3" height="2.3" fill="#c8c8c8" stroke="#8a8a8a" stroke-width="0.65"/>
<rect x="503.05" y="115.51" width="2.3" height="2.3" fill="#c8c8c8" stroke="#8a8a8a" stroke-width="0.65"/>
<line x1="489.50" y1="75.31" x2="489.50" y2="107.33" stroke="#1a1a1a" stroke-width="0.85"/>
<line x1="487.50" y1="75.50" x2="492.30" y2="75.50" stroke="#1a1a1a" stroke-width="0.85"/>
<line x1="487.50" y1="107.50" x2="492.30" y2="107.50" stroke="#1a1a1a" stroke-width="0.85"/>
<line x1="485.00" y1="91.50" x2="494.80" y2="91.50" stroke="#111" stroke-width="1.35"/>
<line x1="504.50" y1="107.33" x2="504.50" y2="117.33" stroke="#1a1a1a" stroke-width="0.85"/>
<line x1="501.80" y1="107.50" x2="506.60" y2="107.50" stroke="#1a1a1a" stroke-width="0.85"/>
<line x1="501.80" y1="117.50" x2="506.60" y2="117.50" stroke="#1a1a1a" stroke-width="0.85"/>
<line x1="499.30" y1="110.50" x2="509.10" y2="110.50" stroke="#111" stroke-width="1.35"/>
<text transform="translate(171.9,87) rotate(-90)" font-size="8.4" font-weight="bold" text-anchor="middle" fill="#2a2a2a" textLength="9.8" lengthAdjust="spacingAndGlyphs">NPX</text>
<text transform="translate(458.4,87.2) rotate(-90)" font-size="7.4" font-weight="bold" text-anchor="middle" fill="#333" textLength="13.2" lengthAdjust="spacingAndGlyphs">pg/ml</text>
<text x="24.30" y="179.90" font-size="7.6" text-anchor="start" fill="#333" stroke="#333" stroke-width="0.1" textLength="51.60" lengthAdjust="spacingAndGlyphs"><tspan fill="#3a6c9e" stroke="#3a6c9e">Down</tspan>regulated</text>
<text x="24.30" y="189.60" font-size="7.6" text-anchor="start" fill="#333" stroke="#333" stroke-width="0.1" textLength="26.20" lengthAdjust="spacingAndGlyphs">proteins</text>
<rect x="41.50" y="195.30" width="6.40" height="6.70" fill="#ffffff" stroke="#1a2626" stroke-width="0.8"/>
<line x1="38.10" y1="198.50" x2="41.40" y2="198.50" stroke="#1a1a1a" stroke-width="0.8"/>
<text x="35.00" y="200.70" font-size="5.8" text-anchor="end" fill="#1e1e1e" stroke="#1e1e1e" stroke-width="0.08">KIM-1</text>
<rect x="41.50" y="202.00" width="6.40" height="6.70" fill="#e6f4f4" stroke="#1a2626" stroke-width="0.8"/>
<line x1="38.10" y1="205.50" x2="41.40" y2="205.50" stroke="#1a1a1a" stroke-width="0.8"/>
<text x="35.00" y="207.40" font-size="5.8" text-anchor="end" fill="#1e1e1e" stroke="#1e1e1e" stroke-width="0.08">MERTK</text>
<rect x="41.50" y="208.70" width="6.40" height="6.70" fill="#cdecec" stroke="#1a2626" stroke-width="0.8"/>
<line x1="38.10" y1="212.50" x2="41.40" y2="212.50" stroke="#1a1a1a" stroke-width="0.8"/>
<text x="35.00" y="214.10" font-size="5.8" text-anchor="end" fill="#1e1e1e" stroke="#1e1e1e" stroke-width="0.08">IL-1ra</text>
<rect x="41.50" y="215.40" width="6.40" height="6.70" fill="#b2e2e2" stroke="#1a2626" stroke-width="0.8"/>
<line x1="38.10" y1="218.50" x2="41.40" y2="218.50" stroke="#1a1a1a" stroke-width="0.8"/>
<text x="35.00" y="220.80" font-size="5.8" text-anchor="end" fill="#1e1e1e" stroke="#1e1e1e" stroke-width="0.08">CEACAM8</text>
<rect x="41.50" y="222.10" width="6.40" height="6.70" fill="#98d9d9" stroke="#1a2626" stroke-width="0.8"/>
<line x1="38.10" y1="225.50" x2="41.40" y2="225.50" stroke="#1a1a1a" stroke-width="0.8"/>
<text x="35.00" y="227.50" font-size="5.8" text-anchor="end" fill="#1e1e1e" stroke="#1e1e1e" stroke-width="0.08">TNF</text>
<rect x="41.50" y="228.80" width="6.40" height="6.70" fill="#88d3d3" stroke="#1a2626" stroke-width="0.8"/>
<line x1="38.10" y1="232.50" x2="41.40" y2="232.50" stroke="#1a1a1a" stroke-width="0.8"/>
<text x="35.00" y="234.20" font-size="5.8" text-anchor="end" fill="#1e1e1e" stroke="#1e1e1e" stroke-width="0.08">IL16</text>
<rect x="41.50" y="235.50" width="6.40" height="6.70" fill="#74cccc" stroke="#1a2626" stroke-width="0.8"/>
<line x1="38.10" y1="238.50" x2="41.40" y2="238.50" stroke="#1a1a1a" stroke-width="0.8"/>
<text x="35.00" y="240.90" font-size="5.8" text-anchor="end" fill="#1e1e1e" stroke="#1e1e1e" stroke-width="0.08">FS</text>
<rect x="41.50" y="242.20" width="6.40" height="6.70" fill="#6cc9ca" stroke="#1a2626" stroke-width="0.8"/>
<line x1="38.10" y1="245.50" x2="41.40" y2="245.50" stroke="#1a1a1a" stroke-width="0.8"/>
<text x="35.00" y="247.60" font-size="5.8" text-anchor="end" fill="#1e1e1e" stroke="#1e1e1e" stroke-width="0.08">PSGL-1</text>
<rect x="41.50" y="248.90" width="6.40" height="6.70" fill="#66c6c8" stroke="#1a2626" stroke-width="0.8"/>
<line x1="38.10" y1="252.50" x2="41.40" y2="252.50" stroke="#1a1a1a" stroke-width="0.8"/>
<text x="35.00" y="254.30" font-size="5.8" text-anchor="end" fill="#1e1e1e" stroke="#1e1e1e" stroke-width="0.08">OSM</text>
<rect x="41.50" y="255.60" width="6.40" height="6.70" fill="#62c4c8" stroke="#1a2626" stroke-width="0.8"/>
<line x1="38.10" y1="258.50" x2="41.40" y2="258.50" stroke="#1a1a1a" stroke-width="0.8"/>
<text x="35.00" y="261.00" font-size="5.8" text-anchor="end" fill="#1e1e1e" stroke="#1e1e1e" stroke-width="0.08">PTX3</text>
<rect x="41.50" y="262.30" width="6.40" height="6.70" fill="#5ec1c8" stroke="#1a2626" stroke-width="0.8"/>
<line x1="38.10" y1="265.50" x2="41.40" y2="265.50" stroke="#1a1a1a" stroke-width="0.8"/>
<text x="35.00" y="267.70" font-size="5.8" text-anchor="end" fill="#1e1e1e" stroke="#1e1e1e" stroke-width="0.08">ITGAV</text>
<rect x="41.50" y="269.00" width="6.40" height="6.70" fill="#56bccb" stroke="#1a2626" stroke-width="0.8"/>
<line x1="38.10" y1="272.50" x2="41.40" y2="272.50" stroke="#1a1a1a" stroke-width="0.8"/>
<text x="35.00" y="274.40" font-size="5.8" text-anchor="end" fill="#1e1e1e" stroke="#1e1e1e" stroke-width="0.08">HB-EGF</text>
<rect x="41.50" y="275.70" width="6.40" height="6.70" fill="#1aa6dc" stroke="#1a2626" stroke-width="0.8"/>
<line x1="38.10" y1="279.50" x2="41.40" y2="279.50" stroke="#1a1a1a" stroke-width="0.8"/>
<text x="35.00" y="281.10" font-size="5.8" text-anchor="end" fill="#1e1e1e" stroke="#1e1e1e" stroke-width="0.08">CD244</text>
<rect x="41.50" y="282.40" width="6.40" height="6.70" fill="#16a6e0" stroke="#1a2626" stroke-width="0.8"/>
<line x1="38.10" y1="285.50" x2="41.40" y2="285.50" stroke="#1a1a1a" stroke-width="0.8"/>
<text x="35.00" y="287.80" font-size="5.8" text-anchor="end" fill="#1e1e1e" stroke="#1e1e1e" stroke-width="0.08">TRANCE</text>
<rect x="41.50" y="289.10" width="6.40" height="6.70" fill="#1c9ce0" stroke="#1a2626" stroke-width="0.8"/>
<line x1="38.10" y1="292.50" x2="41.40" y2="292.50" stroke="#1a1a1a" stroke-width="0.8"/>
<text x="35.00" y="294.50" font-size="5.8" text-anchor="end" fill="#1e1e1e" stroke="#1e1e1e" stroke-width="0.08">IL-7</text>
<rect x="41.50" y="295.80" width="6.40" height="6.70" fill="#2a7ed2" stroke="#1a2626" stroke-width="0.8"/>
<line x1="38.10" y1="299.50" x2="41.40" y2="299.50" stroke="#1a1a1a" stroke-width="0.8"/>
<text x="35.00" y="301.20" font-size="5.8" text-anchor="end" fill="#1e1e1e" stroke="#1e1e1e" stroke-width="0.08">HER-2</text>
<rect x="41.50" y="302.50" width="6.40" height="6.70" fill="#2c70c8" stroke="#1a2626" stroke-width="0.8"/>
<line x1="38.10" y1="305.50" x2="41.40" y2="305.50" stroke="#1a1a1a" stroke-width="0.8"/>
<text x="35.00" y="307.90" font-size="5.8" text-anchor="end" fill="#1e1e1e" stroke="#1e1e1e" stroke-width="0.08">VEGFR-2</text>
<rect x="41.50" y="309.20" width="6.40" height="6.70" fill="#305ec0" stroke="#1a2626" stroke-width="0.8"/>
<line x1="38.10" y1="312.50" x2="41.40" y2="312.50" stroke="#1a1a1a" stroke-width="0.8"/>
<text x="35.00" y="314.60" font-size="5.8" text-anchor="end" fill="#1e1e1e" stroke="#1e1e1e" stroke-width="0.08">PD-L1</text>
<rect x="41.50" y="315.90" width="6.40" height="6.70" fill="#3458b8" stroke="#1a2626" stroke-width="0.8"/>
<line x1="38.10" y1="319.50" x2="41.40" y2="319.50" stroke="#1a1a1a" stroke-width="0.8"/>
<text x="35.00" y="321.30" font-size="5.8" text-anchor="end" fill="#1e1e1e" stroke="#1e1e1e" stroke-width="0.08">CCL23</text>
<rect x="41.50" y="322.60" width="6.40" height="6.70" fill="#3850b0" stroke="#1a2626" stroke-width="0.8"/>
<line x1="38.10" y1="325.50" x2="41.40" y2="325.50" stroke="#1a1a1a" stroke-width="0.8"/>
<text x="35.00" y="328.00" font-size="5.8" text-anchor="end" fill="#1e1e1e" stroke="#1e1e1e" stroke-width="0.08">CEACAM1</text>
<rect x="41.50" y="329.30" width="6.40" height="6.70" fill="#3a48a8" stroke="#1a2626" stroke-width="0.8"/>
<line x1="38.10" y1="332.50" x2="41.40" y2="332.50" stroke="#1a1a1a" stroke-width="0.8"/>
<text x="35.00" y="334.70" font-size="5.8" text-anchor="end" fill="#1e1e1e" stroke="#1e1e1e" stroke-width="0.08">HO-1</text>
<rect x="41.50" y="336.00" width="6.40" height="6.70" fill="#383f9e" stroke="#1a2626" stroke-width="0.8"/>
<line x1="38.10" y1="339.50" x2="41.40" y2="339.50" stroke="#1a1a1a" stroke-width="0.8"/>
<text x="35.00" y="341.40" font-size="5.8" text-anchor="end" fill="#1e1e1e" stroke="#1e1e1e" stroke-width="0.08">IL-18R1</text>
<rect x="41.50" y="342.70" width="6.40" height="6.70" fill="#2c2a88" stroke="#1a2626" stroke-width="0.8"/>
<line x1="38.10" y1="346.50" x2="41.40" y2="346.50" stroke="#1a1a1a" stroke-width="0.8"/>
<text x="35.00" y="348.10" font-size="5.8" text-anchor="end" fill="#1e1e1e" stroke="#1e1e1e" stroke-width="0.08">NEMO</text>
<defs><linearGradient id="gB" x1="0" y1="0" x2="0" y2="1"><stop offset="0" stop-color="#ffffff"/><stop offset="0.12" stop-color="#f2fafa"/><stop offset="0.3" stop-color="#a8dcdc"/><stop offset="0.5" stop-color="#34a8b8"/><stop offset="0.7" stop-color="#1a78c0"/><stop offset="0.86" stop-color="#1f4898"/><stop offset="1" stop-color="#1c1c64"/></linearGradient><linearGradient id="gU" x1="0" y1="0" x2="0" y2="1"><stop offset="0" stop-color="#ffffff"/><stop offset="0.1" stop-color="#fbeee8"/><stop offset="0.25" stop-color="#f8d0c0"/><stop offset="0.48" stop-color="#f0a080"/><stop offset="0.72" stop-color="#e87040"/><stop offset="1" stop-color="#d84818"/></linearGradient></defs>
<text x="60.6" y="200.8" font-size="6.6" fill="#333" stroke="#333" stroke-width="0.12" textLength="17.8" lengthAdjust="spacingAndGlyphs"><tspan font-style="italic">P</tspan>-value</text>
<rect x="62.70" y="205.00" width="4.60" height="33.00" fill="url(#gB)" stroke="#333" stroke-width="0.7"/>
<line x1="62.70" y1="205.50" x2="67.30" y2="205.50" stroke="rgba(0,0,0,0.3)" stroke-width="0.7"/>
<text x="70.40" y="208.00" font-size="6.0" text-anchor="start" fill="#444" stroke="#444" stroke-width="0.15">0.05</text>
<line x1="62.70" y1="212.50" x2="67.30" y2="212.50" stroke="rgba(0,0,0,0.3)" stroke-width="0.7"/>
<text x="70.40" y="214.40" font-size="6.0" text-anchor="start" fill="#444" stroke="#444" stroke-width="0.15">0.04</text>
<line x1="62.70" y1="218.50" x2="67.30" y2="218.50" stroke="rgba(0,0,0,0.3)" stroke-width="0.7"/>
<text x="70.40" y="220.80" font-size="6.0" text-anchor="start" fill="#444" stroke="#444" stroke-width="0.15">0.03</text>
<line x1="62.70" y1="225.50" x2="67.30" y2="225.50" stroke="rgba(0,0,0,0.3)" stroke-width="0.7"/>
<text x="70.40" y="227.20" font-size="6.0" text-anchor="start" fill="#444" stroke="#444" stroke-width="0.15">0.02</text>
<line x1="62.70" y1="231.50" x2="67.30" y2="231.50" stroke="rgba(0,0,0,0.3)" stroke-width="0.7"/>
<text x="70.40" y="233.60" font-size="6.0" text-anchor="start" fill="#444" stroke="#444" stroke-width="0.15">0.01</text>
<text x="58.20" y="248.60" font-size="7.7" text-anchor="start" fill="#333" stroke="#333" stroke-width="0.1" textLength="41.80" lengthAdjust="spacingAndGlyphs"><tspan fill="#bf3560" stroke="#bf3560">Up</tspan>regulated</text>
<text x="58.20" y="256.70" font-size="7.7" text-anchor="start" fill="#333" stroke="#333" stroke-width="0.1" textLength="26.40" lengthAdjust="spacingAndGlyphs">proteins</text>
<rect x="90.90" y="262.00" width="6.40" height="6.70" fill="#fde4c4" stroke="#2a1a10" stroke-width="0.8"/>
<line x1="87.50" y1="265.50" x2="90.80" y2="265.50" stroke="#1a1a1a" stroke-width="0.8"/>
<text x="84.80" y="267.40" font-size="5.8" text-anchor="end" fill="#1e1e1e" stroke="#1e1e1e" stroke-width="0.08">FCRLB</text>
<rect x="90.90" y="268.70" width="6.40" height="6.70" fill="#f6c07c" stroke="#2a1a10" stroke-width="0.8"/>
<line x1="87.50" y1="272.50" x2="90.80" y2="272.50" stroke="#1a1a1a" stroke-width="0.8"/>
<text x="84.80" y="274.10" font-size="5.8" text-anchor="end" fill="#1e1e1e" stroke="#1e1e1e" stroke-width="0.08">ANG-1</text>
<rect x="90.90" y="275.40" width="6.40" height="6.70" fill="#f4a848" stroke="#2a1a10" stroke-width="0.8"/>
<line x1="87.50" y1="278.50" x2="90.80" y2="278.50" stroke="#1a1a1a" stroke-width="0.8"/>
<text x="84.80" y="280.80" font-size="5.8" text-anchor="end" fill="#1e1e1e" stroke="#1e1e1e" stroke-width="0.08">CASP8</text>
<rect x="90.90" y="282.10" width="6.40" height="6.70" fill="#f08626" stroke="#2a1a10" stroke-width="0.8"/>
<line x1="87.50" y1="285.50" x2="90.80" y2="285.50" stroke="#1a1a1a" stroke-width="0.8"/>
<text x="84.80" y="287.50" font-size="5.8" text-anchor="end" fill="#1e1e1e" stroke="#1e1e1e" stroke-width="0.08">FGF-BP1</text>
<rect x="90.90" y="288.80" width="6.40" height="6.70" fill="#ec6c16" stroke="#2a1a10" stroke-width="0.8"/>
<line x1="87.50" y1="292.50" x2="90.80" y2="292.50" stroke="#1a1a1a" stroke-width="0.8"/>
<text x="84.80" y="294.20" font-size="5.8" text-anchor="end" fill="#1e1e1e" stroke="#1e1e1e" stroke-width="0.08">CYR61</text>
<rect x="90.90" y="295.50" width="6.40" height="6.70" fill="#e65418" stroke="#2a1a10" stroke-width="0.8"/>
<line x1="87.50" y1="298.50" x2="90.80" y2="298.50" stroke="#1a1a1a" stroke-width="0.8"/>
<text x="84.80" y="300.90" font-size="5.8" text-anchor="end" fill="#1e1e1e" stroke="#1e1e1e" stroke-width="0.08">MIA</text>
<text x="61.2" y="311.0" font-size="6.6" fill="#333" stroke="#333" stroke-width="0.12" textLength="17.8" lengthAdjust="spacingAndGlyphs"><tspan font-style="italic">P</tspan>-value</text>
<rect x="63.60" y="315.00" width="4.70" height="33.60" fill="url(#gU)" stroke="#444" stroke-width="0.7"/>
<line x1="63.60" y1="315.50" x2="68.30" y2="315.50" stroke="rgba(60,20,0,0.35)" stroke-width="0.8"/>
<text x="70.50" y="317.40" font-size="6.0" text-anchor="start" fill="#444" stroke="#444" stroke-width="0.15">0.05</text>
<line x1="63.60" y1="321.50" x2="68.30" y2="321.50" stroke="rgba(60,20,0,0.35)" stroke-width="0.8"/>
<text x="70.50" y="323.90" font-size="6.0" text-anchor="start" fill="#444" stroke="#444" stroke-width="0.15">0.04</text>
<line x1="63.60" y1="328.50" x2="68.30" y2="328.50" stroke="rgba(60,20,0,0.35)" stroke-width="0.8"/>
<text x="70.50" y="330.40" font-size="6.0" text-anchor="start" fill="#444" stroke="#444" stroke-width="0.15">0.03</text>
<line x1="63.60" y1="334.50" x2="68.30" y2="334.50" stroke="rgba(60,20,0,0.35)" stroke-width="0.8"/>
<text x="70.50" y="336.90" font-size="6.0" text-anchor="start" fill="#444" stroke="#444" stroke-width="0.15">0.02</text>
<line x1="63.60" y1="341.50" x2="68.30" y2="341.50" stroke="rgba(60,20,0,0.35)" stroke-width="0.8"/>
<text x="70.50" y="343.40" font-size="6.0" text-anchor="start" fill="#444" stroke="#444" stroke-width="0.15">0.01</text>
<text x="136.80" y="197.50" font-size="7.6" text-anchor="start" fill="#333" stroke="#333" stroke-width="0.1" textLength="71.40" lengthAdjust="spacingAndGlyphs"><tspan fill="#bf3560" stroke="#bf3560">Up</tspan>regulated proteins</text>
<line x1="135.50" y1="225.90" x2="135.50" y2="295.75" stroke="#1a1a1a" stroke-width="1.15"/>
<line x1="135.00" y1="295.50" x2="168.00" y2="295.50" stroke="#1a1a1a" stroke-width="1.15"/>
<line x1="132.60" y1="295.50" x2="135.50" y2="295.50" stroke="#1a1a1a" stroke-width="0.9"/>
<text x="128.90" y="297.10" font-size="5.7" text-anchor="end" fill="#3a3a3a" stroke="#3a3a3a" stroke-width="0.08">3</text>
<line x1="132.60" y1="281.50" x2="135.50" y2="281.50" stroke="#1a1a1a" stroke-width="0.9"/>
<text x="128.90" y="283.72" font-size="5.7" text-anchor="end" fill="#3a3a3a" stroke="#3a3a3a" stroke-width="0.08">4</text>
<line x1="132.60" y1="268.50" x2="135.50" y2="268.50" stroke="#1a1a1a" stroke-width="0.9"/>
<text x="128.90" y="270.34" font-size="5.7" text-anchor="end" fill="#3a3a3a" stroke="#3a3a3a" stroke-width="0.08">5</text>
<line x1="132.60" y1="255.50" x2="135.50" y2="255.50" stroke="#1a1a1a" stroke-width="0.9"/>
<text x="128.90" y="256.96" font-size="5.7" text-anchor="end" fill="#3a3a3a" stroke="#3a3a3a" stroke-width="0.08">6</text>
<line x1="132.60" y1="241.50" x2="135.50" y2="241.50" stroke="#1a1a1a" stroke-width="0.9"/>
<text x="128.90" y="243.58" font-size="5.7" text-anchor="end" fill="#3a3a3a" stroke="#3a3a3a" stroke-width="0.08">7</text>
<line x1="132.60" y1="228.50" x2="135.50" y2="228.50" stroke="#1a1a1a" stroke-width="0.9"/>
<text x="128.90" y="230.20" font-size="5.7" text-anchor="end" fill="#3a3a3a" stroke="#3a3a3a" stroke-width="0.08">8</text>
<line x1="145.50" y1="295.20" x2="145.50" y2="297.90" stroke="#1a1a1a" stroke-width="0.9"/>
<text transform="translate(148.10,304.10) rotate(-45)" font-size="6.3" text-anchor="end" fill="#333">HD</text>
<line x1="159.50" y1="295.20" x2="159.50" y2="297.90" stroke="#1a1a1a" stroke-width="0.9"/>
<text transform="translate(162.40,304.10) rotate(-45)" font-size="6.3" text-anchor="end" fill="#333">ADAN</text>
<text x="136.80" y="210.70" font-size="7.5" text-anchor="start" fill="#1e1e1e" stroke="#1e1e1e" stroke-width="0.1">CYR-61,</text>
<text x="136.80" y="220.10" font-size="7.5" text-anchor="start" fill="#1e1e1e" stroke="#1e1e1e" stroke-width="0.1"><tspan font-style="italic">P</tspan> &lt; .05</text>
<circle cx="145.00" cy="246.76" r="1.2" fill="none" stroke="#c4587a" stroke-width="0.65"/>
<circle cx="145.00" cy="251.05" r="1.2" fill="none" stroke="#c4587a" stroke-width="0.65"/>
<circle cx="149.20" cy="251.72" r="1.2" fill="none" stroke="#c4587a" stroke-width="0.65"/>
<circle cx="142.90" cy="253.72" r="1.2" fill="none" stroke="#c4587a" stroke-width="0.65"/>
<circle cx="145.00" cy="256.40" r="1.2" fill="none" stroke="#c4587a" stroke-width="0.65"/>
<circle cx="149.20" cy="257.74" r="1.2" fill="none" stroke="#c4587a" stroke-width="0.65"/>
<circle cx="140.80" cy="258.40" r="1.2" fill="none" stroke="#c4587a" stroke-width="0.65"/>
<circle cx="145.00" cy="260.41" r="1.2" fill="none" stroke="#c4587a" stroke-width="0.65"/>
<circle cx="149.20" cy="261.08" r="1.2" fill="none" stroke="#c4587a" stroke-width="0.65"/>
<circle cx="140.80" cy="261.75" r="1.2" fill="none" stroke="#c4587a" stroke-width="0.65"/>
<circle cx="153.40" cy="263.09" r="1.2" fill="none" stroke="#c4587a" stroke-width="0.65"/>
<circle cx="145.00" cy="264.43" r="1.2" fill="none" stroke="#c4587a" stroke-width="0.65"/>
<circle cx="147.10" cy="267.10" r="1.2" fill="none" stroke="#c4587a" stroke-width="0.65"/>
<circle cx="142.90" cy="268.44" r="1.2" fill="none" stroke="#c4587a" stroke-width="0.65"/>
<circle cx="145.00" cy="271.12" r="1.2" fill="none" stroke="#c4587a" stroke-width="0.65"/>
<circle cx="149.20" cy="272.45" r="1.2" fill="none" stroke="#c4587a" stroke-width="0.65"/>
<circle cx="142.90" cy="273.79" r="1.2" fill="none" stroke="#c4587a" stroke-width="0.65"/>
<circle cx="145.00" cy="276.47" r="1.2" fill="none" stroke="#c4587a" stroke-width="0.65"/>
<circle cx="145.00" cy="279.81" r="1.2" fill="none" stroke="#c4587a" stroke-width="0.65"/>
<rect x="158.15" y="237.85" width="2.3" height="2.3" fill="none" stroke="#c4587a" stroke-width="0.65"/>
<rect x="158.15" y="247.22" width="2.3" height="2.3" fill="none" stroke="#c4587a" stroke-width="0.65"/>
<rect x="162.35" y="248.56" width="2.3" height="2.3" fill="none" stroke="#c4587a" stroke-width="0.65"/>
<rect x="158.15" y="255.25" width="2.3" height="2.3" fill="none" stroke="#c4587a" stroke-width="0.65"/>
<rect x="162.35" y="256.59" width="2.3" height="2.3" fill="none" stroke="#c4587a" stroke-width="0.65"/>
<line x1="145.50" y1="257.74" x2="145.50" y2="272.45" stroke="#3a1c24" stroke-width="0.85"/>
<line x1="142.60" y1="257.50" x2="147.40" y2="257.50" stroke="#3a1c24" stroke-width="0.85"/>
<line x1="142.60" y1="272.50" x2="147.40" y2="272.50" stroke="#3a1c24" stroke-width="0.85"/>
<line x1="140.10" y1="261.50" x2="149.90" y2="261.50" stroke="#111" stroke-width="1.35"/>
<line x1="159.50" y1="243.02" x2="159.50" y2="257.07" stroke="#3a1c24" stroke-width="0.85"/>
<line x1="156.90" y1="243.50" x2="161.70" y2="243.50" stroke="#3a1c24" stroke-width="0.85"/>
<line x1="156.90" y1="257.50" x2="161.70" y2="257.50" stroke="#3a1c24" stroke-width="0.85"/>
<line x1="154.40" y1="249.50" x2="164.20" y2="249.50" stroke="#111" stroke-width="1.35"/>
<line x1="195.50" y1="225.90" x2="195.50" y2="295.75" stroke="#1a1a1a" stroke-width="1.15"/>
<line x1="194.70" y1="295.50" x2="227.60" y2="295.50" stroke="#1a1a1a" stroke-width="1.15"/>
<line x1="192.30" y1="295.50" x2="195.20" y2="295.50" stroke="#1a1a1a" stroke-width="0.9"/>
<text x="188.60" y="297.10" font-size="5.7" text-anchor="end" fill="#3a3a3a" stroke="#3a3a3a" stroke-width="0.08">9.5</text>
<line x1="192.30" y1="272.50" x2="195.20" y2="272.50" stroke="#1a1a1a" stroke-width="0.9"/>
<text x="188.60" y="274.80" font-size="5.7" text-anchor="end" fill="#3a3a3a" stroke="#3a3a3a" stroke-width="0.08">10.0</text>
<line x1="192.30" y1="250.50" x2="195.20" y2="250.50" stroke="#1a1a1a" stroke-width="0.9"/>
<text x="188.60" y="252.50" font-size="5.7" text-anchor="end" fill="#3a3a3a" stroke="#3a3a3a" stroke-width="0.08">10.5</text>
<line x1="192.30" y1="228.50" x2="195.20" y2="228.50" stroke="#1a1a1a" stroke-width="0.9"/>
<text x="188.60" y="230.20" font-size="5.7" text-anchor="end" fill="#3a3a3a" stroke="#3a3a3a" stroke-width="0.08">11.0</text>
<line x1="204.50" y1="295.20" x2="204.50" y2="297.90" stroke="#1a1a1a" stroke-width="0.9"/>
<text transform="translate(207.60,304.10) rotate(-45)" font-size="6.3" text-anchor="end" fill="#333">HD</text>
<line x1="218.50" y1="295.20" x2="218.50" y2="297.90" stroke="#1a1a1a" stroke-width="0.9"/>
<text transform="translate(221.70,304.10) rotate(-45)" font-size="6.3" text-anchor="end" fill="#333">ADAN</text>
<text x="196.50" y="210.70" font-size="7.5" text-anchor="start" fill="#1e1e1e" stroke="#1e1e1e" stroke-width="0.1">ANG-1,</text>
<text x="196.50" y="220.10" font-size="7.5" text-anchor="start" fill="#1e1e1e" stroke="#1e1e1e" stroke-width="0.1"><tspan font-style="italic">P</tspan> &lt; .05</text>
<circle cx="204.50" cy="234.99" r="1.2" fill="none" stroke="#c4587a" stroke-width="0.65"/>
<circle cx="204.50" cy="243.91" r="1.2" fill="none" stroke="#c4587a" stroke-width="0.65"/>
<circle cx="206.60" cy="246.14" r="1.2" fill="none" stroke="#c4587a" stroke-width="0.65"/>
<circle cx="204.50" cy="250.60" r="1.2" fill="none" stroke="#c4587a" stroke-width="0.65"/>
<circle cx="206.60" cy="252.83" r="1.2" fill="none" stroke="#c4587a" stroke-width="0.65"/>
<circle cx="204.50" cy="257.29" r="1.2" fill="none" stroke="#c4587a" stroke-width="0.65"/>
<circle cx="206.60" cy="259.52" r="1.2" fill="none" stroke="#c4587a" stroke-width="0.65"/>
<circle cx="204.50" cy="261.75" r="1.2" fill="none" stroke="#c4587a" stroke-width="0.65"/>
<circle cx="206.60" cy="263.98" r="1.2" fill="none" stroke="#c4587a" stroke-width="0.65"/>
<circle cx="204.50" cy="266.21" r="1.2" fill="none" stroke="#c4587a" stroke-width="0.65"/>
<circle cx="206.60" cy="268.44" r="1.2" fill="none" stroke="#c4587a" stroke-width="0.65"/>
<circle cx="204.50" cy="272.90" r="1.2" fill="none" stroke="#c4587a" stroke-width="0.65"/>
<circle cx="206.60" cy="275.13" r="1.2" fill="none" stroke="#c4587a" stroke-width="0.65"/>
<circle cx="204.50" cy="277.36" r="1.2" fill="none" stroke="#c4587a" stroke-width="0.65"/>
<circle cx="206.60" cy="279.59" r="1.2" fill="none" stroke="#c4587a" stroke-width="0.65"/>
<circle cx="204.50" cy="281.82" r="1.2" fill="none" stroke="#c4587a" stroke-width="0.65"/>
<rect x="217.45" y="238.30" width="2.3" height="2.3" fill="none" stroke="#c4587a" stroke-width="0.65"/>
<rect x="219.55" y="240.53" width="2.3" height="2.3" fill="none" stroke="#c4587a" stroke-width="0.65"/>
<rect x="217.45" y="251.68" width="2.3" height="2.3" fill="none" stroke="#c4587a" stroke-width="0.65"/>
<rect x="219.55" y="253.91" width="2.3" height="2.3" fill="none" stroke="#c4587a" stroke-width="0.65"/>
<rect x="215.35" y="253.91" width="2.3" height="2.3" fill="none" stroke="#c4587a" stroke-width="0.65"/>
<line x1="204.50" y1="248.37" x2="204.50" y2="275.13" stroke="#3a1c24" stroke-width="0.85"/>
<line x1="202.10" y1="248.50" x2="206.90" y2="248.50" stroke="#3a1c24" stroke-width="0.85"/>
<line x1="202.10" y1="275.50" x2="206.90" y2="275.50" stroke="#3a1c24" stroke-width="0.85"/>
<line x1="199.60" y1="259.50" x2="209.40" y2="259.50" stroke="#111" stroke-width="1.35"/>
<line x1="218.50" y1="239.45" x2="218.50" y2="255.06" stroke="#3a1c24" stroke-width="0.85"/>
<line x1="216.20" y1="239.50" x2="221.00" y2="239.50" stroke="#3a1c24" stroke-width="0.85"/>
<line x1="216.20" y1="255.50" x2="221.00" y2="255.50" stroke="#3a1c24" stroke-width="0.85"/>
<line x1="213.70" y1="248.50" x2="223.50" y2="248.50" stroke="#111" stroke-width="1.35"/>
<line x1="246.50" y1="225.90" x2="246.50" y2="295.75" stroke="#1a1a1a" stroke-width="1.15"/>
<line x1="245.50" y1="295.50" x2="278.30" y2="295.50" stroke="#1a1a1a" stroke-width="1.15"/>
<line x1="243.10" y1="295.50" x2="246.00" y2="295.50" stroke="#1a1a1a" stroke-width="0.9"/>
<text x="239.40" y="297.10" font-size="5.7" text-anchor="end" fill="#3a3a3a" stroke="#3a3a3a" stroke-width="0.08">0</text>
<line x1="243.10" y1="278.50" x2="246.00" y2="278.50" stroke="#1a1a1a" stroke-width="0.9"/>
<text x="239.40" y="280.38" font-size="5.7" text-anchor="end" fill="#3a3a3a" stroke="#3a3a3a" stroke-width="0.08">1</text>
<line x1="243.10" y1="261.50" x2="246.00" y2="261.50" stroke="#1a1a1a" stroke-width="0.9"/>
<text x="239.40" y="263.65" font-size="5.7" text-anchor="end" fill="#3a3a3a" stroke="#3a3a3a" stroke-width="0.08">2</text>
<line x1="243.10" y1="245.50" x2="246.00" y2="245.50" stroke="#1a1a1a" stroke-width="0.9"/>
<text x="239.40" y="246.93" font-size="5.7" text-anchor="end" fill="#3a3a3a" stroke="#3a3a3a" stroke-width="0.08">3</text>
<line x1="243.10" y1="228.50" x2="246.00" y2="228.50" stroke="#1a1a1a" stroke-width="0.9"/>
<text x="239.40" y="230.20" font-size="5.7" text-anchor="end" fill="#3a3a3a" stroke="#3a3a3a" stroke-width="0.08">4</text>
<line x1="255.50" y1="295.20" x2="255.50" y2="297.90" stroke="#1a1a1a" stroke-width="0.9"/>
<text transform="translate(258.60,304.10) rotate(-45)" font-size="6.3" text-anchor="end" fill="#333">HD</text>
<line x1="269.50" y1="295.20" x2="269.50" y2="297.90" stroke="#1a1a1a" stroke-width="0.9"/>
<text transform="translate(272.80,304.10) rotate(-45)" font-size="6.3" text-anchor="end" fill="#333">ADAN</text>
<text x="247.30" y="210.70" font-size="7.5" text-anchor="start" fill="#1e1e1e" stroke="#1e1e1e" stroke-width="0.1">FCRLB,</text>
<text x="247.30" y="220.10" font-size="7.5" text-anchor="start" fill="#1e1e1e" stroke="#1e1e1e" stroke-width="0.1"><tspan font-style="italic">P</tspan> &lt; .05</text>
<circle cx="255.50" cy="266.77" r="1.2" fill="none" stroke="#c4587a" stroke-width="0.65"/>
<circle cx="255.50" cy="270.11" r="1.2" fill="none" stroke="#c4587a" stroke-width="0.65"/>
<circle cx="255.50" cy="273.46" r="1.2" fill="none" stroke="#c4587a" stroke-width="0.65"/>
<circle cx="259.70" cy="275.13" r="1.2" fill="none" stroke="#c4587a" stroke-width="0.65"/>
<circle cx="253.40" cy="275.97" r="1.2" fill="none" stroke="#c4587a" stroke-width="0.65"/>
<circle cx="249.20" cy="276.80" r="1.2" fill="none" stroke="#c4587a" stroke-width="0.65"/>
<circle cx="257.60" cy="277.64" r="1.2" fill="none" stroke="#c4587a" stroke-width="0.65"/>
<circle cx="261.80" cy="278.48" r="1.2" fill="none" stroke="#c4587a" stroke-width="0.65"/>
<circle cx="247.10" cy="278.81" r="1.2" fill="none" stroke="#c4587a" stroke-width="0.65"/>
<circle cx="253.40" cy="279.31" r="1.2" fill="none" stroke="#c4587a" stroke-width="0.65"/>
<circle cx="247.10" cy="279.81" r="1.2" fill="none" stroke="#c4587a" stroke-width="0.65"/>
<circle cx="247.10" cy="280.15" r="1.2" fill="none" stroke="#c4587a" stroke-width="0.65"/>
<circle cx="247.10" cy="280.48" r="1.2" fill="none" stroke="#c4587a" stroke-width="0.65"/>
<circle cx="257.60" cy="280.98" r="1.2" fill="none" stroke="#c4587a" stroke-width="0.65"/>
<circle cx="251.30" cy="281.82" r="1.2" fill="none" stroke="#c4587a" stroke-width="0.65"/>
<circle cx="261.80" cy="282.66" r="1.2" fill="none" stroke="#c4587a" stroke-width="0.65"/>
<circle cx="255.50" cy="283.49" r="1.2" fill="none" stroke="#c4587a" stroke-width="0.65"/>
<circle cx="259.70" cy="285.16" r="1.2" fill="none" stroke="#c4587a" stroke-width="0.65"/>
<circle cx="255.50" cy="286.84" r="1.2" fill="none" stroke="#c4587a" stroke-width="0.65"/>
<rect x="268.55" y="236.35" width="2.3" height="2.3" fill="none" stroke="#c4587a" stroke-width="0.65"/>
<rect x="268.55" y="242.20" width="2.3" height="2.3" fill="none" stroke="#c4587a" stroke-width="0.65"/>
<rect x="268.55" y="272.31" width="2.3" height="2.3" fill="none" stroke="#c4587a" stroke-width="0.65"/>
<rect x="272.75" y="273.98" width="2.3" height="2.3" fill="none" stroke="#c4587a" stroke-width="0.65"/>
<rect x="268.55" y="289.03" width="2.3" height="2.3" fill="none" stroke="#c4587a" stroke-width="0.65"/>
<line x1="255.50" y1="275.13" x2="255.50" y2="281.82" stroke="#3a1c24" stroke-width="0.85"/>
<line x1="253.10" y1="275.50" x2="257.90" y2="275.50" stroke="#3a1c24" stroke-width="0.85"/>
<line x1="253.10" y1="281.50" x2="257.90" y2="281.50" stroke="#3a1c24" stroke-width="0.85"/>
<line x1="250.60" y1="279.50" x2="260.40" y2="279.50" stroke="#111" stroke-width="1.35"/>
<line x1="269.50" y1="243.35" x2="269.50" y2="277.64" stroke="#3a1c24" stroke-width="0.85"/>
<line x1="267.30" y1="243.50" x2="272.10" y2="243.50" stroke="#3a1c24" stroke-width="0.85"/>
<line x1="267.30" y1="277.50" x2="272.10" y2="277.50" stroke="#3a1c24" stroke-width="0.85"/>
<line x1="264.80" y1="255.50" x2="274.60" y2="255.50" stroke="#111" stroke-width="1.35"/>
<text transform="translate(121.0,260.6) rotate(-90)" font-size="8.0" font-weight="bold" text-anchor="middle" fill="#333" textLength="10.0" lengthAdjust="spacingAndGlyphs">NPX</text>
<line x1="350.50" y1="183.00" x2="350.50" y2="304.90" stroke="#1a1a1a" stroke-width="1.15"/>
<line x1="397.50" y1="183.00" x2="397.50" y2="304.50" stroke="#1a1a1a" stroke-width="1.15"/>
<line x1="349.60" y1="304.50" x2="397.80" y2="304.50" stroke="#1a1a1a" stroke-width="1.15"/>
<rect x="361.80" y="187.10" width="35.50" height="11.70" fill="#0e4c86"/>
<line x1="347.30" y1="192.50" x2="350.10" y2="192.50" stroke="#1a1a1a" stroke-width="0.9"/>
<rect x="366.10" y="204.15" width="31.20" height="11.70" fill="#0e4c86"/>
<line x1="347.30" y1="210.50" x2="350.10" y2="210.50" stroke="#1a1a1a" stroke-width="0.9"/>
<rect x="374.10" y="221.20" width="23.20" height="11.70" fill="#0e4c86"/>
<line x1="347.30" y1="227.50" x2="350.10" y2="227.50" stroke="#1a1a1a" stroke-width="0.9"/>
<rect x="376.60" y="238.25" width="20.70" height="11.70" fill="#0e4c86"/>
<line x1="347.30" y1="244.50" x2="350.10" y2="244.50" stroke="#1a1a1a" stroke-width="0.9"/>
<rect x="381.30" y="255.30" width="16.00" height="11.70" fill="#0e4c86"/>
<line x1="347.30" y1="261.50" x2="350.10" y2="261.50" stroke="#1a1a1a" stroke-width="0.9"/>
<rect x="382.40" y="272.35" width="14.90" height="11.70" fill="#0e4c86"/>
<line x1="347.30" y1="278.50" x2="350.10" y2="278.50" stroke="#1a1a1a" stroke-width="0.9"/>
<rect x="382.80" y="289.40" width="14.50" height="11.70" fill="#0e4c86"/>
<line x1="347.30" y1="295.50" x2="350.10" y2="295.50" stroke="#1a1a1a" stroke-width="0.9"/>
<line x1="350.50" y1="304.60" x2="350.50" y2="307.30" stroke="#1a1a1a" stroke-width="0.9"/>
<text x="350.10" y="316.20" font-size="5.6" text-anchor="middle" fill="#3a3a3a" stroke="#3a3a3a" stroke-width="0.15">−8</text>
<line x1="361.50" y1="304.60" x2="361.50" y2="307.30" stroke="#1a1a1a" stroke-width="0.9"/>
<text x="361.90" y="316.20" font-size="5.6" text-anchor="middle" fill="#3a3a3a" stroke="#3a3a3a" stroke-width="0.15">−6</text>
<line x1="373.50" y1="304.60" x2="373.50" y2="307.30" stroke="#1a1a1a" stroke-width="0.9"/>
<text x="373.70" y="316.20" font-size="5.6" text-anchor="middle" fill="#3a3a3a" stroke="#3a3a3a" stroke-width="0.15">−4</text>
<line x1="385.50" y1="304.60" x2="385.50" y2="307.30" stroke="#1a1a1a" stroke-width="0.9"/>
<text x="385.50" y="316.20" font-size="5.6" text-anchor="middle" fill="#3a3a3a" stroke="#3a3a3a" stroke-width="0.15">−2</text>
<line x1="397.50" y1="304.60" x2="397.50" y2="307.30" stroke="#1a1a1a" stroke-width="0.9"/>
<text x="397.30" y="316.20" font-size="5.6" text-anchor="middle" fill="#3a3a3a" stroke="#3a3a3a" stroke-width="0.15">0</text>
<text x="373.70" y="327.00" font-size="7.8" text-anchor="middle" fill="#2a2a2a" stroke="#2a2a2a" stroke-width="0" font-weight="bold" textLength="29.20" lengthAdjust="spacingAndGlyphs">log10 (FDR)</text>
<text x="344.00" y="191.40" font-size="5.9" text-anchor="end" fill="#1e1e1e" stroke="#1e1e1e" stroke-width="0.15">regulation of</text>
<text x="344.00" y="198.60" font-size="5.9" text-anchor="end" fill="#1e1e1e" stroke="#1e1e1e" stroke-width="0.15">cytokine production</text>
<text x="400.80" y="191.25" font-size="5.9" text-anchor="start" fill="#1e1e1e" stroke="#1e1e1e" stroke-width="0.15">IL-18R1, PDL1, HO-1, OSM, CEACAM1,</text>
<text x="400.80" y="198.75" font-size="5.9" text-anchor="start" fill="#1e1e1e" stroke="#1e1e1e" stroke-width="0.15">MERTK, IL-16, CD244, ITGAV, IL7, TNF</text>
<text x="344.00" y="208.45" font-size="5.9" text-anchor="end" fill="#1e1e1e" stroke="#1e1e1e" stroke-width="0.15">regulation of</text>
<text x="344.00" y="215.65" font-size="5.9" text-anchor="end" fill="#1e1e1e" stroke="#1e1e1e" stroke-width="0.15">leukocyte activation</text>
<text x="400.80" y="208.30" font-size="5.9" text-anchor="start" fill="#1e1e1e" stroke="#1e1e1e" stroke-width="0.15">PDL1, KIM-1, TRANCE, HO-1, CEACAM1,</text>
<text x="400.80" y="215.80" font-size="5.9" text-anchor="start" fill="#1e1e1e" stroke="#1e1e1e" stroke-width="0.15">MERTK, IL-16, HER-2, IL7, TNF</text>
<text x="344.00" y="229.10" font-size="5.9" text-anchor="end" fill="#1e1e1e" stroke="#1e1e1e" stroke-width="0.15">hemopoiesis</text>
<text x="400.80" y="225.35" font-size="5.9" text-anchor="start" fill="#1e1e1e" stroke="#1e1e1e" stroke-width="0.15">IL-18R1, FS, TRANCE, VEGFR-2, MERTK,</text>
<text x="400.80" y="232.85" font-size="5.9" text-anchor="start" fill="#1e1e1e" stroke="#1e1e1e" stroke-width="0.15">PSGL-1, HER-2, IL7, TNF</text>
<text x="344.00" y="242.55" font-size="5.9" text-anchor="end" fill="#1e1e1e" stroke="#1e1e1e" stroke-width="0.15">regulation of</text>
<text x="344.00" y="249.75" font-size="5.9" text-anchor="end" fill="#1e1e1e" stroke="#1e1e1e" stroke-width="0.15">cell-cell adhesion</text>
<text x="400.80" y="242.40" font-size="5.9" text-anchor="start" fill="#1e1e1e" stroke="#1e1e1e" stroke-width="0.15">PDL1, TRANCE, CEACAM1, IL-1Ra,</text>
<text x="400.80" y="249.90" font-size="5.9" text-anchor="start" fill="#1e1e1e" stroke="#1e1e1e" stroke-width="0.15">HER-2, IL7, TNF</text>
<text x="344.00" y="259.60" font-size="5.9" text-anchor="end" fill="#1e1e1e" stroke="#1e1e1e" stroke-width="0.15">response to</text>
<text x="344.00" y="266.80" font-size="5.9" text-anchor="end" fill="#1e1e1e" stroke="#1e1e1e" stroke-width="0.15">wounding</text>
<text x="400.80" y="259.45" font-size="5.9" text-anchor="start" fill="#1e1e1e" stroke="#1e1e1e" stroke-width="0.15">HO-1, VEGFR-2, CEACAM1, MERTK,</text>
<text x="400.80" y="266.95" font-size="5.9" text-anchor="start" fill="#1e1e1e" stroke="#1e1e1e" stroke-width="0.15">HB-EGF, HER-2</text>
<text x="344.00" y="276.65" font-size="5.9" text-anchor="end" fill="#1e1e1e" stroke="#1e1e1e" stroke-width="0.15">ERK1 and ERK2</text>
<text x="344.00" y="283.85" font-size="5.9" text-anchor="end" fill="#1e1e1e" stroke="#1e1e1e" stroke-width="0.15">cascade</text>
<text x="400.80" y="280.25" font-size="5.9" text-anchor="start" fill="#1e1e1e" stroke="#1e1e1e" stroke-width="0.15">TRANCE, VEGFR-2, ITGAV</text>
<text x="344.00" y="293.70" font-size="5.9" text-anchor="end" fill="#1e1e1e" stroke="#1e1e1e" stroke-width="0.15">regulation of</text>
<text x="344.00" y="300.90" font-size="5.9" text-anchor="end" fill="#1e1e1e" stroke="#1e1e1e" stroke-width="0.15">angiogenesis</text>
<text x="400.80" y="297.30" font-size="5.9" text-anchor="start" fill="#1e1e1e" stroke="#1e1e1e" stroke-width="0.15">HO-1, VEGFR-2, CEACAM1, HER-2, TNF</text>
<rect x="0" y="0" width="520" height="1.2" fill="#666"/><rect x="0" y="0" width="1.3" height="356" fill="#555"/><rect x="518.6" y="0" width="1.4" height="356" fill="#333"/><rect x="0" y="354.6" width="520" height="1.4" fill="#3a3a3a"/>
</svg>
</body></html>
